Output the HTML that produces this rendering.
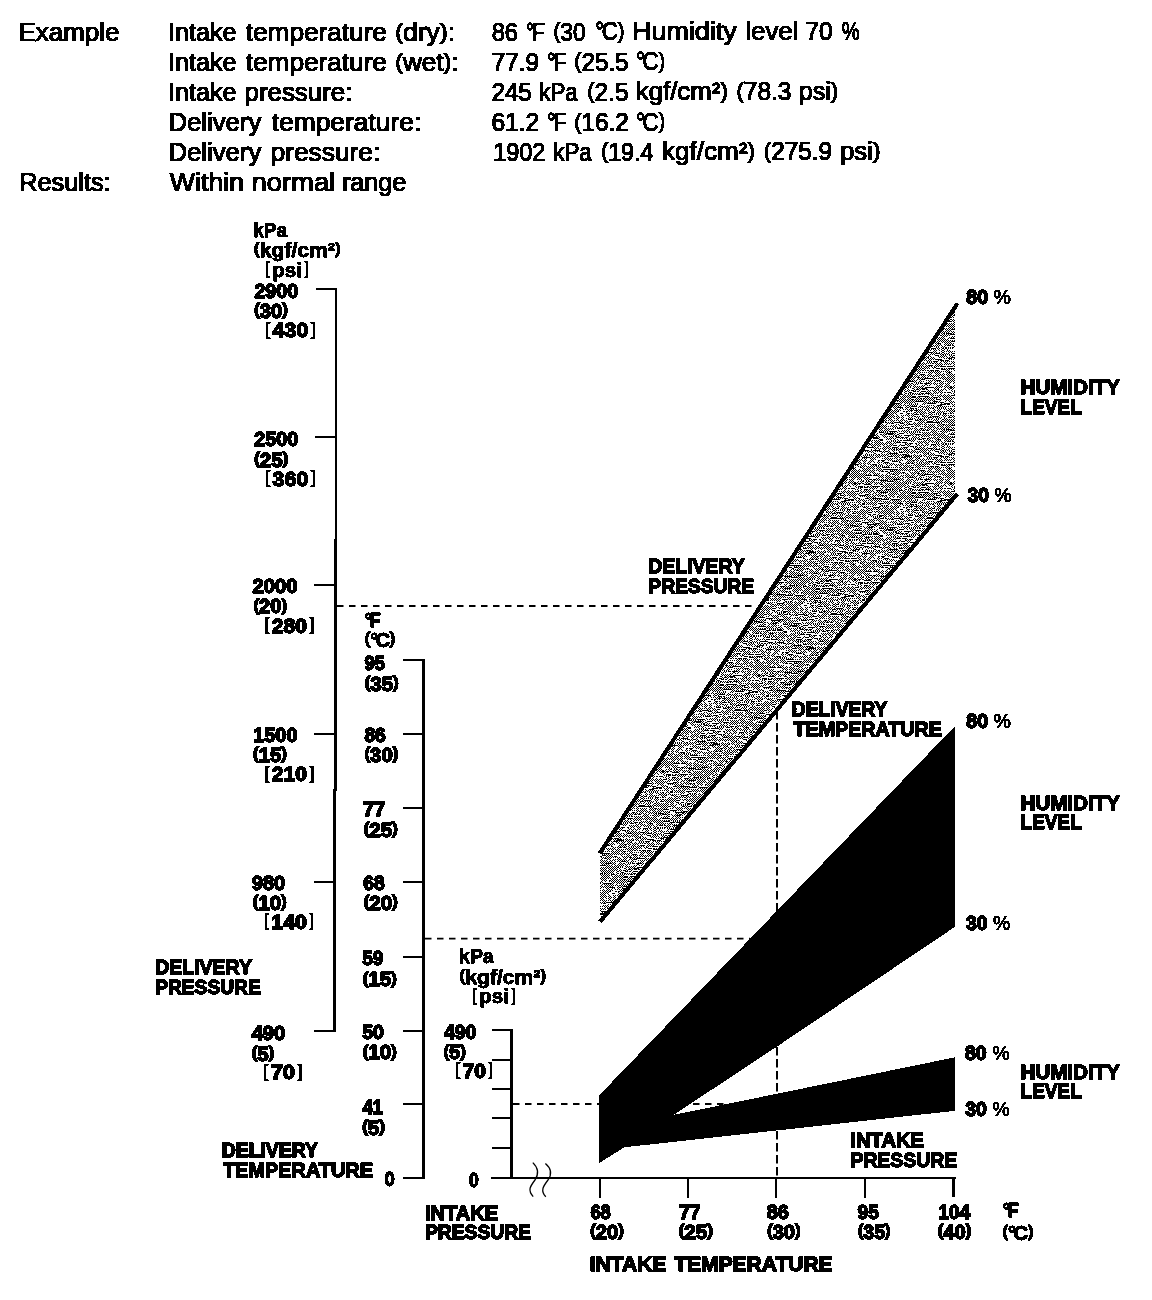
<!DOCTYPE html>
<html lang="en">
<head>
<meta charset="utf-8">
<title>A/C performance test chart</title>
<style>
html,body{margin:0;padding:0;background:#fff;}
body{width:1152px;height:1300px;overflow:hidden;}
svg{display:block;}
text{font-family:"Liberation Sans",sans-serif;fill:#000;stroke:#000;stroke-linejoin:miter;white-space:pre;}
.h{font-size:25.2px;font-weight:400;stroke-width:1.2px;}
.b{font-size:20.8px;font-weight:700;stroke-width:1.3px;}
.n{font-size:19.4px;font-weight:700;stroke-width:1.3px;}
.u{font-size:19.8px;font-weight:700;stroke-width:0.75px;}
.d{font-size:19.8px;font-weight:700;stroke-width:1.0px;}
.pc{font-weight:400;stroke-width:0.7px;}
.i{stroke-width:0.4px;}
.lb{font-weight:400;stroke-width:0.2px;font-size:0.95em;}
.p{font-size:0.83em;}
.h .p{font-size:0.9em;}
.h .dg{letter-spacing:-2.6px;}
.b .dg,.u .dg,.d .dg{letter-spacing:-2.4px;}
</style>
</head>
<body>
<svg width="1152" height="1300" viewBox="0 0 1152 1300" role="img" aria-label="A/C performance chart">
<filter id="bwh" x="0" y="0" width="1152" height="205" filterUnits="userSpaceOnUse" color-interpolation-filters="sRGB"><feComponentTransfer><feFuncR type="discrete" tableValues="0 0 0 0 0 0 0 0 0 0 1 1 1 1 1 1 1 1 1 1"/><feFuncG type="discrete" tableValues="0 0 0 0 0 0 0 0 0 0 1 1 1 1 1 1 1 1 1 1"/><feFuncB type="discrete" tableValues="0 0 0 0 0 0 0 0 0 0 1 1 1 1 1 1 1 1 1 1"/></feComponentTransfer></filter><filter id="bw" x="0" y="205" width="1152" height="1095" filterUnits="userSpaceOnUse" color-interpolation-filters="sRGB"><feComponentTransfer><feFuncR type="discrete" tableValues="0 0 0 0 0 0 0 0 0 0 0 0 1 1 1 1 1 1 1 1"/><feFuncG type="discrete" tableValues="0 0 0 0 0 0 0 0 0 0 0 0 1 1 1 1 1 1 1 1"/><feFuncB type="discrete" tableValues="0 0 0 0 0 0 0 0 0 0 0 0 1 1 1 1 1 1 1 1"/></feComponentTransfer></filter>
<rect x="0" y="0" width="1152" height="1300" fill="#fff"/><g id="header" filter="url(#bwh)"><rect x="0" y="0" width="1152" height="205" fill="#fff"/>
<text class="h" x="18.40" y="41.2" textLength="101.06" lengthAdjust="spacingAndGlyphs">Example</text>
<text class="h" x="168.15" y="41.0" textLength="68.26" lengthAdjust="spacingAndGlyphs">Intake</text>
<text class="h" x="245.75" y="40.9" textLength="141.17" lengthAdjust="spacingAndGlyphs">temperature</text>
<text class="h" x="395.15" y="40.7" textLength="59.94" lengthAdjust="spacingAndGlyphs"><tspan class="p" dy="-2.02">(</tspan><tspan dy="2.02">dry</tspan><tspan class="p" dy="-2.02">)</tspan><tspan dy="2.02">:</tspan></text>
<text class="h" x="491.70" y="40.5" textLength="26.27" lengthAdjust="spacingAndGlyphs">86</text>
<text class="h" x="525.65" y="40.5" textLength="17.16" lengthAdjust="spacingAndGlyphs"><tspan letter-spacing="-2.60">°F</tspan></text>
<text class="h" x="553.45" y="40.5" textLength="32.24" lengthAdjust="spacingAndGlyphs"><tspan class="p" dy="-2.02">(</tspan><tspan dy="2.02">30</tspan></text>
<text class="h" x="595.15" y="40.4" textLength="29.31" lengthAdjust="spacingAndGlyphs"><tspan letter-spacing="-2.60">°C</tspan><tspan class="p" dy="-2.02" dx="2.60">)</tspan></text>
<text class="h" x="631.90" y="40.4" textLength="104.99" lengthAdjust="spacingAndGlyphs">Humidity</text>
<text class="h" x="745.40" y="40.2" textLength="52.91" lengthAdjust="spacingAndGlyphs">level</text>
<text class="h" x="805.55" y="40.1" textLength="27.14" lengthAdjust="spacingAndGlyphs">70</text>
<text class="h" x="841.65" y="40.1" textLength="17.87" lengthAdjust="spacingAndGlyphs">%</text>
<text class="h" x="168.15" y="71.1" textLength="68.26" lengthAdjust="spacingAndGlyphs">Intake</text>
<text class="h" x="245.75" y="71.0" textLength="141.17" lengthAdjust="spacingAndGlyphs">temperature</text>
<text class="h" x="395.15" y="70.8" textLength="63.36" lengthAdjust="spacingAndGlyphs"><tspan class="p" dy="-2.02">(</tspan><tspan dy="2.02">wet</tspan><tspan class="p" dy="-2.02">)</tspan><tspan dy="2.02">:</tspan></text>
<text class="h" x="491.85" y="70.6" textLength="47.23" lengthAdjust="spacingAndGlyphs">77.9</text>
<text class="h" x="547.35" y="70.6" textLength="16.69" lengthAdjust="spacingAndGlyphs"><tspan letter-spacing="-2.60">°F</tspan></text>
<text class="h" x="574.25" y="70.5" textLength="54.29" lengthAdjust="spacingAndGlyphs"><tspan class="p" dy="-2.02">(</tspan><tspan dy="2.02">25.5</tspan></text>
<text class="h" x="635.95" y="70.4" textLength="29.31" lengthAdjust="spacingAndGlyphs"><tspan letter-spacing="-2.60">°C</tspan><tspan class="p" dy="-2.02" dx="2.60">)</tspan></text>
<text class="h" x="168.15" y="101.1" textLength="68.26" lengthAdjust="spacingAndGlyphs">Intake</text>
<text class="h" x="244.50" y="101.0" textLength="107.88" lengthAdjust="spacingAndGlyphs">pressure:</text>
<text class="h" x="491.45" y="100.6" textLength="40.38" lengthAdjust="spacingAndGlyphs">245</text>
<text class="h" x="539.30" y="100.6" textLength="38.46" lengthAdjust="spacingAndGlyphs">kPa</text>
<text class="h" x="587.25" y="100.5" textLength="41.29" lengthAdjust="spacingAndGlyphs"><tspan class="p" dy="-2.02">(</tspan><tspan dy="2.02">2.5</tspan></text>
<text class="h" x="635.75" y="100.4" textLength="92.22" lengthAdjust="spacingAndGlyphs">kgf/cm²<tspan class="p" dy="-2.02">)</tspan></text>
<text class="h" x="736.45" y="100.3" textLength="54.96" lengthAdjust="spacingAndGlyphs"><tspan class="p" dy="-2.02">(</tspan><tspan dy="2.02">78.3</tspan></text>
<text class="h" x="798.70" y="100.2" textLength="39.61" lengthAdjust="spacingAndGlyphs">psi<tspan class="p" dy="-2.02">)</tspan></text>
<text class="h" x="168.40" y="131.2" textLength="92.90" lengthAdjust="spacingAndGlyphs">Delivery</text>
<text class="h" x="271.75" y="131.1" textLength="149.49" lengthAdjust="spacingAndGlyphs">temperature:</text>
<text class="h" x="491.45" y="130.7" textLength="47.84" lengthAdjust="spacingAndGlyphs">61.2</text>
<text class="h" x="547.35" y="130.7" textLength="16.69" lengthAdjust="spacingAndGlyphs"><tspan letter-spacing="-2.60">°F</tspan></text>
<text class="h" x="574.25" y="130.6" textLength="54.55" lengthAdjust="spacingAndGlyphs"><tspan class="p" dy="-2.02">(</tspan><tspan dy="2.02">16.2</tspan></text>
<text class="h" x="635.95" y="130.5" textLength="29.31" lengthAdjust="spacingAndGlyphs"><tspan letter-spacing="-2.60">°C</tspan><tspan class="p" dy="-2.02" dx="2.60">)</tspan></text>
<text class="h" x="168.40" y="161.1" textLength="92.90" lengthAdjust="spacingAndGlyphs">Delivery</text>
<text class="h" x="270.50" y="161.0" textLength="109.78" lengthAdjust="spacingAndGlyphs">pressure:</text>
<text class="h" x="493.35" y="160.6" textLength="52.05" lengthAdjust="spacingAndGlyphs">1902</text>
<text class="h" x="553.20" y="160.6" textLength="38.66" lengthAdjust="spacingAndGlyphs">kPa</text>
<text class="h" x="601.15" y="160.5" textLength="52.23" lengthAdjust="spacingAndGlyphs"><tspan class="p" dy="-2.02">(</tspan><tspan dy="2.02">19.4</tspan></text>
<text class="h" x="661.95" y="160.4" textLength="93.24" lengthAdjust="spacingAndGlyphs">kgf/cm²<tspan class="p" dy="-2.02">)</tspan></text>
<text class="h" x="763.85" y="160.3" textLength="68.15" lengthAdjust="spacingAndGlyphs"><tspan class="p" dy="-2.02">(</tspan><tspan dy="2.02">275.9</tspan></text>
<text class="h" x="839.90" y="160.2" textLength="40.60" lengthAdjust="spacingAndGlyphs">psi<tspan class="p" dy="-2.02">)</tspan></text>
<text class="h" x="19.20" y="191.3" textLength="91.47" lengthAdjust="spacingAndGlyphs">Results:</text>
<text class="h" x="169.85" y="191.1" textLength="74.21" lengthAdjust="spacingAndGlyphs">Within</text>
<text class="h" x="251.40" y="191.0" textLength="83.98" lengthAdjust="spacingAndGlyphs">normal</text>
<text class="h" x="341.90" y="190.9" textLength="64.42" lengthAdjust="spacingAndGlyphs">range</text>
</g>
<g id="labels" filter="url(#bw)"><rect x="0" y="205" width="1152" height="1095" fill="#fff"/>
<text class="u" x="253.30" y="237.0" textLength="33.58" lengthAdjust="spacingAndGlyphs">kPa</text>
<text class="u" x="253.80" y="256.6" textLength="86.97" lengthAdjust="spacingAndGlyphs"><tspan class="p" dy="-2.77">(</tspan><tspan dy="2.77">kgf/cm²</tspan><tspan class="p" dy="-2.77">)</tspan></text>
<text class="u" x="264.75" y="276.6" textLength="44.72" lengthAdjust="spacingAndGlyphs"><tspan class="lb" dy="-2.57" letter-spacing="1.98">[</tspan><tspan dy="2.57">psi</tspan><tspan class="lb" dy="-2.57" dx="1.98">]</tspan></text>
<text class="n" x="254.40" y="297.6" textLength="43.79" lengthAdjust="spacingAndGlyphs">2900</text>
<text class="n" x="254.15" y="318.0" textLength="33.61" lengthAdjust="spacingAndGlyphs"><tspan class="p" dy="-2.72">(</tspan><tspan dy="2.72">30</tspan><tspan class="p" dy="-2.72">)</tspan></text>
<text class="n" x="264.75" y="337.2" textLength="51.36" lengthAdjust="spacingAndGlyphs"><tspan class="lb" dy="-2.52" letter-spacing="1.94">[</tspan><tspan dy="2.52">430</tspan><tspan class="lb" dy="-2.52" dx="1.94">]</tspan></text>
<text class="n" x="254.30" y="446.0" textLength="43.94" lengthAdjust="spacingAndGlyphs">2500</text>
<text class="n" x="254.15" y="466.8" textLength="34.11" lengthAdjust="spacingAndGlyphs"><tspan class="p" dy="-2.72">(</tspan><tspan dy="2.72">25</tspan><tspan class="p" dy="-2.72">)</tspan></text>
<text class="n" x="264.75" y="485.6" textLength="51.36" lengthAdjust="spacingAndGlyphs"><tspan class="lb" dy="-2.52" letter-spacing="1.94">[</tspan><tspan dy="2.52">360</tspan><tspan class="lb" dy="-2.52" dx="1.94">]</tspan></text>
<text class="n" x="252.40" y="593.3" textLength="45.00" lengthAdjust="spacingAndGlyphs">2000</text>
<text class="n" x="253.55" y="613.4" textLength="33.56" lengthAdjust="spacingAndGlyphs"><tspan class="p" dy="-2.72">(</tspan><tspan dy="2.72">20</tspan><tspan class="p" dy="-2.72">)</tspan></text>
<text class="n" x="264.15" y="632.9" textLength="50.71" lengthAdjust="spacingAndGlyphs"><tspan class="lb" dy="-2.52" letter-spacing="1.94">[</tspan><tspan dy="2.52">280</tspan><tspan class="lb" dy="-2.52" dx="1.94">]</tspan></text>
<text class="n" x="253.30" y="741.5" textLength="44.16" lengthAdjust="spacingAndGlyphs">1500</text>
<text class="n" x="253.05" y="761.8" textLength="33.81" lengthAdjust="spacingAndGlyphs"><tspan class="p" dy="-2.72">(</tspan><tspan dy="2.72">15</tspan><tspan class="p" dy="-2.72">)</tspan></text>
<text class="n" x="264.15" y="781.3" textLength="50.71" lengthAdjust="spacingAndGlyphs"><tspan class="lb" dy="-2.52" letter-spacing="1.94">[</tspan><tspan dy="2.52">210</tspan><tspan class="lb" dy="-2.52" dx="1.94">]</tspan></text>
<text class="n" x="252.00" y="889.9" textLength="33.11" lengthAdjust="spacingAndGlyphs">980</text>
<text class="n" x="252.75" y="910.2" textLength="33.96" lengthAdjust="spacingAndGlyphs"><tspan class="p" dy="-2.72">(</tspan><tspan dy="2.72">10</tspan><tspan class="p" dy="-2.72">)</tspan></text>
<text class="n" x="263.45" y="929.0" textLength="51.26" lengthAdjust="spacingAndGlyphs"><tspan class="lb" dy="-2.52" letter-spacing="1.94">[</tspan><tspan dy="2.52">140</tspan><tspan class="lb" dy="-2.52" dx="1.94">]</tspan></text>
<text class="n" x="251.65" y="1040.3" textLength="33.65" lengthAdjust="spacingAndGlyphs">490</text>
<text class="n" x="251.65" y="1060.6" textLength="22.58" lengthAdjust="spacingAndGlyphs"><tspan class="p" dy="-2.72">(</tspan><tspan dy="2.72">5</tspan><tspan class="p" dy="-2.72">)</tspan></text>
<text class="n" x="262.75" y="1079.3" textLength="40.23" lengthAdjust="spacingAndGlyphs"><tspan class="lb" dy="-2.52" letter-spacing="1.94">[</tspan><tspan dy="2.52">70</tspan><tspan class="lb" dy="-2.52" dx="1.94">]</tspan></text>
<text class="d" x="364.75" y="626.8" textLength="13.76" lengthAdjust="spacingAndGlyphs"><tspan letter-spacing="-2.40">°F</tspan></text>
<text class="d" x="364.75" y="646.8" textLength="30.51" lengthAdjust="spacingAndGlyphs"><tspan class="p" dy="-2.77">(</tspan><tspan dy="2.77" letter-spacing="-2.40">°C</tspan><tspan class="p" dy="-2.77" dx="2.40">)</tspan></text>
<text class="n" x="364.40" y="669.9" textLength="20.49" lengthAdjust="spacingAndGlyphs">95</text>
<text class="n" x="364.75" y="690.7" textLength="33.96" lengthAdjust="spacingAndGlyphs"><tspan class="p" dy="-2.72">(</tspan><tspan dy="2.72">35</tspan><tspan class="p" dy="-2.72">)</tspan></text>
<text class="n" x="364.40" y="741.5" textLength="21.38" lengthAdjust="spacingAndGlyphs">86</text>
<text class="n" x="364.45" y="761.8" textLength="33.91" lengthAdjust="spacingAndGlyphs"><tspan class="p" dy="-2.72">(</tspan><tspan dy="2.72">30</tspan><tspan class="p" dy="-2.72">)</tspan></text>
<text class="n" x="362.95" y="816.0" textLength="22.29" lengthAdjust="spacingAndGlyphs">77</text>
<text class="n" x="363.65" y="836.8" textLength="34.11" lengthAdjust="spacingAndGlyphs"><tspan class="p" dy="-2.72">(</tspan><tspan dy="2.72">25</tspan><tspan class="p" dy="-2.72">)</tspan></text>
<text class="n" x="363.20" y="889.9" textLength="21.43" lengthAdjust="spacingAndGlyphs">68</text>
<text class="n" x="363.65" y="910.2" textLength="34.11" lengthAdjust="spacingAndGlyphs"><tspan class="p" dy="-2.72">(</tspan><tspan dy="2.72">20</tspan><tspan class="p" dy="-2.72">)</tspan></text>
<text class="n" x="362.20" y="965.3" textLength="21.28" lengthAdjust="spacingAndGlyphs">59</text>
<text class="n" x="362.65" y="986.4" textLength="34.11" lengthAdjust="spacingAndGlyphs"><tspan class="p" dy="-2.72">(</tspan><tspan dy="2.72">15</tspan><tspan class="p" dy="-2.72">)</tspan></text>
<text class="n" x="362.20" y="1038.5" textLength="21.68" lengthAdjust="spacingAndGlyphs">50</text>
<text class="n" x="362.65" y="1059.3" textLength="34.11" lengthAdjust="spacingAndGlyphs"><tspan class="p" dy="-2.72">(</tspan><tspan dy="2.72">10</tspan><tspan class="p" dy="-2.72">)</tspan></text>
<text class="n" x="362.65" y="1114.0" textLength="19.91" lengthAdjust="spacingAndGlyphs">41</text>
<text class="n" x="362.15" y="1135.1" textLength="22.93" lengthAdjust="spacingAndGlyphs"><tspan class="p" dy="-2.72">(</tspan><tspan dy="2.72">5</tspan><tspan class="p" dy="-2.72">)</tspan></text>
<text class="n" x="384.50" y="1185.9" textLength="10.15" lengthAdjust="spacingAndGlyphs">0</text>
<text class="u" x="459.10" y="963.2" textLength="34.60" lengthAdjust="spacingAndGlyphs">kPa</text>
<text class="u" x="459.60" y="983.6" textLength="86.51" lengthAdjust="spacingAndGlyphs"><tspan class="p" dy="-2.77">(</tspan><tspan dy="2.77">kgf/cm²</tspan><tspan class="p" dy="-2.77">)</tspan></text>
<text class="u" x="471.85" y="1003.2" textLength="44.52" lengthAdjust="spacingAndGlyphs"><tspan class="lb" dy="-2.57" letter-spacing="1.98">[</tspan><tspan dy="2.57">psi</tspan><tspan class="lb" dy="-2.57" dx="1.98">]</tspan></text>
<text class="n" x="443.95" y="1038.5" textLength="32.36" lengthAdjust="spacingAndGlyphs">490</text>
<text class="n" x="443.45" y="1059.3" textLength="22.43" lengthAdjust="spacingAndGlyphs"><tspan class="p" dy="-2.72">(</tspan><tspan dy="2.72">5</tspan><tspan class="p" dy="-2.72">)</tspan></text>
<text class="n" x="454.95" y="1078.0" textLength="38.75" lengthAdjust="spacingAndGlyphs"><tspan class="lb" dy="-2.52" letter-spacing="1.94">[</tspan><tspan dy="2.52">70</tspan><tspan class="lb" dy="-2.52" dx="1.94">]</tspan></text>
<text class="n" x="469.00" y="1187.1" textLength="9.69" lengthAdjust="spacingAndGlyphs">0</text>
<text class="b" x="155.15" y="973.8" textLength="96.84" lengthAdjust="spacingAndGlyphs">DELIVERY</text>
<text class="b" x="155.15" y="994.0" textLength="105.65" lengthAdjust="spacingAndGlyphs">PRESSURE</text>
<text class="b" x="221.75" y="1157.0" textLength="96.14" lengthAdjust="spacingAndGlyphs">DELIVERY</text>
<text class="b" x="223.00" y="1177.1" textLength="149.96" lengthAdjust="spacingAndGlyphs">TEMPERATURE</text>
<text class="b" x="424.95" y="1220.0" textLength="73.30" lengthAdjust="spacingAndGlyphs">INTAKE</text>
<text class="b" x="424.95" y="1239.1" textLength="105.95" lengthAdjust="spacingAndGlyphs">PRESSURE</text>
<text class="b" x="648.35" y="573.1" textLength="96.44" lengthAdjust="spacingAndGlyphs">DELIVERY</text>
<text class="b" x="648.35" y="592.6" textLength="105.65" lengthAdjust="spacingAndGlyphs">PRESSURE</text>
<text class="b" x="791.85" y="716.1" textLength="95.49" lengthAdjust="spacingAndGlyphs">DELIVERY</text>
<text class="b" x="793.60" y="735.7" textLength="148.26" lengthAdjust="spacingAndGlyphs">TEMPERATURE</text>
<text class="b" x="850.45" y="1146.9" textLength="73.50" lengthAdjust="spacingAndGlyphs">INTAKE</text>
<text class="b" x="850.45" y="1166.9" textLength="106.86" lengthAdjust="spacingAndGlyphs">PRESSURE</text>
<text class="n" x="966.30" y="304.0" textLength="44.67" lengthAdjust="spacingAndGlyphs">80 <tspan class="pc">%</tspan></text>
<text class="b" x="1020.55" y="394.4" textLength="99.32" lengthAdjust="spacingAndGlyphs">HUMIDITY</text>
<text class="b" x="1020.55" y="413.5" textLength="61.01" lengthAdjust="spacingAndGlyphs">LEVEL</text>
<text class="n" x="967.45" y="502.0" textLength="43.92" lengthAdjust="spacingAndGlyphs">30 <tspan class="pc">%</tspan></text>
<text class="n" x="966.30" y="727.8" textLength="44.67" lengthAdjust="spacingAndGlyphs">80 <tspan class="pc">%</tspan></text>
<text class="b" x="1020.55" y="810.4" textLength="99.32" lengthAdjust="spacingAndGlyphs">HUMIDITY</text>
<text class="b" x="1020.55" y="829.4" textLength="61.01" lengthAdjust="spacingAndGlyphs">LEVEL</text>
<text class="n" x="965.95" y="930.0" textLength="44.27" lengthAdjust="spacingAndGlyphs">30 <tspan class="pc">%</tspan></text>
<text class="n" x="965.00" y="1059.6" textLength="44.52" lengthAdjust="spacingAndGlyphs">80 <tspan class="pc">%</tspan></text>
<text class="b" x="1020.55" y="1078.9" textLength="99.32" lengthAdjust="spacingAndGlyphs">HUMIDITY</text>
<text class="b" x="1020.55" y="1098.4" textLength="61.01" lengthAdjust="spacingAndGlyphs">LEVEL</text>
<text class="n" x="965.25" y="1116.1" textLength="44.27" lengthAdjust="spacingAndGlyphs">30 <tspan class="pc">%</tspan></text>
<text class="n" x="590.40" y="1218.6" textLength="20.34" lengthAdjust="spacingAndGlyphs">68</text>
<text class="n" x="590.15" y="1239.1" textLength="33.56" lengthAdjust="spacingAndGlyphs"><tspan class="p" dy="-2.72">(</tspan><tspan dy="2.72">20</tspan><tspan class="p" dy="-2.72">)</tspan></text>
<text class="n" x="679.15" y="1218.6" textLength="21.27" lengthAdjust="spacingAndGlyphs">77</text>
<text class="n" x="678.65" y="1239.1" textLength="34.27" lengthAdjust="spacingAndGlyphs"><tspan class="p" dy="-2.72">(</tspan><tspan dy="2.72">25</tspan><tspan class="p" dy="-2.72">)</tspan></text>
<text class="n" x="766.70" y="1218.6" textLength="22.23" lengthAdjust="spacingAndGlyphs">86</text>
<text class="n" x="767.15" y="1239.1" textLength="33.46" lengthAdjust="spacingAndGlyphs"><tspan class="p" dy="-2.72">(</tspan><tspan dy="2.72">30</tspan><tspan class="p" dy="-2.72">)</tspan></text>
<text class="n" x="857.40" y="1218.6" textLength="21.48" lengthAdjust="spacingAndGlyphs">95</text>
<text class="n" x="857.95" y="1239.1" textLength="32.60" lengthAdjust="spacingAndGlyphs"><tspan class="p" dy="-2.72">(</tspan><tspan dy="2.72">35</tspan><tspan class="p" dy="-2.72">)</tspan></text>
<text class="n" x="938.40" y="1218.6" textLength="31.66" lengthAdjust="spacingAndGlyphs">104</text>
<text class="n" x="937.85" y="1239.1" textLength="33.46" lengthAdjust="spacingAndGlyphs"><tspan class="p" dy="-2.72">(</tspan><tspan dy="2.72">40</tspan><tspan class="p" dy="-2.72">)</tspan></text>
<text class="d" x="1002.45" y="1217.3" textLength="14.22" lengthAdjust="spacingAndGlyphs"><tspan letter-spacing="-2.40">°F</tspan></text>
<text class="d" x="1002.45" y="1239.5" textLength="30.98" lengthAdjust="spacingAndGlyphs"><tspan class="p" dy="-2.77">(</tspan><tspan dy="2.77" letter-spacing="-2.40">°C</tspan><tspan class="p" dy="-2.77" dx="2.40">)</tspan></text>
<text class="b" x="589.65" y="1270.9" textLength="76.89" lengthAdjust="spacingAndGlyphs">INTAKE</text>
<text class="b" x="674.20" y="1270.9" textLength="158.45" lengthAdjust="spacingAndGlyphs">TEMPERATURE</text>
</g>
<defs><pattern id="dith" x="0" y="0" width="96" height="96" patternUnits="userSpaceOnUse"><rect width="96" height="96" fill="#fff"/><path d="M2 0h1v1h-1zM4 0h1v1h-1zM8 0h1v1h-1zM10 0h1v1h-1zM12 0h1v1h-1zM14 0h1v1h-1zM16 0h8v1h-8zM26 0h1v1h-1zM28 0h1v1h-1zM30 0h1v1h-1zM32 0h1v1h-1zM36 0h1v1h-1zM38 0h1v1h-1zM42 0h1v1h-1zM44 0h1v1h-1zM46 0h1v1h-1zM49 0h1v1h-1zM51 0h1v1h-1zM53 0h1v1h-1zM61 0h2v1h-2zM66 0h1v1h-1zM70 0h1v1h-1zM72 0h1v1h-1zM76 0h1v1h-1zM78 0h1v1h-1zM82 0h1v1h-1zM84 0h1v1h-1zM93 0h1v1h-1zM95 0h1v1h-1zM2 1h1v1h-1zM4 1h2v1h-2zM7 1h1v1h-1zM9 1h1v1h-1zM17 1h1v1h-1zM19 1h1v1h-1zM21 1h1v1h-1zM23 1h7v1h-7zM31 1h1v1h-1zM33 1h1v1h-1zM35 1h1v1h-1zM39 1h1v1h-1zM41 1h1v1h-1zM43 1h1v1h-1zM45 1h1v1h-1zM47 1h1v1h-1zM50 1h1v1h-1zM58 1h1v1h-1zM60 1h1v1h-1zM63 1h1v1h-1zM65 1h1v1h-1zM73 1h1v1h-1zM75 1h1v1h-1zM77 1h1v1h-1zM81 1h1v1h-1zM83 1h1v1h-1zM85 1h1v1h-1zM90 1h1v1h-1zM92 1h1v1h-1zM94 1h2v1h-2zM1 2h1v1h-1zM3 2h1v1h-1zM6 2h1v1h-1zM8 2h1v1h-1zM10 2h1v1h-1zM12 2h1v1h-1zM14 2h1v1h-1zM16 2h1v1h-1zM18 2h1v1h-1zM20 2h1v1h-1zM30 2h1v1h-1zM32 2h1v1h-1zM34 2h1v1h-1zM36 2h1v1h-1zM38 2h1v1h-1zM40 2h1v1h-1zM42 2h1v1h-1zM44 2h1v1h-1zM46 2h1v1h-1zM49 2h1v1h-1zM51 2h1v1h-1zM53 2h1v1h-1zM55 2h1v1h-1zM57 2h1v1h-1zM59 2h1v1h-1zM72 2h1v1h-1zM74 2h1v1h-1zM76 2h1v1h-1zM78 2h1v1h-1zM80 2h1v1h-1zM82 2h1v1h-1zM84 2h1v1h-1zM86 2h2v1h-2zM89 2h1v1h-1zM93 2h1v1h-1zM2 3h1v1h-1zM4 3h2v1h-2zM7 3h1v1h-1zM11 3h1v1h-1zM13 3h1v1h-1zM15 3h1v1h-1zM17 3h1v1h-1zM21 3h1v1h-1zM23 3h1v1h-1zM25 3h1v1h-1zM27 3h1v1h-1zM29 3h1v1h-1zM31 3h1v1h-1zM33 3h1v1h-1zM35 3h1v1h-1zM37 3h1v1h-1zM39 3h1v1h-1zM41 3h2v1h-2zM44 3h1v1h-1zM46 3h1v1h-1zM50 3h1v1h-1zM52 3h1v1h-1zM54 3h1v1h-1zM56 3h1v1h-1zM58 3h1v1h-1zM61 3h9v1h-9zM71 3h1v1h-1zM73 3h1v1h-1zM75 3h1v1h-1zM77 3h1v1h-1zM81 3h1v1h-1zM83 3h1v1h-1zM85 3h4v1h-4zM90 3h3v1h-3zM94 3h2v1h-2zM0 4h7v1h-7zM10 4h1v1h-1zM12 4h1v1h-1zM16 4h3v1h-3zM22 4h1v1h-1zM24 4h1v1h-1zM26 4h1v1h-1zM28 4h1v1h-1zM30 4h1v1h-1zM32 4h1v1h-1zM34 4h1v1h-1zM36 4h1v1h-1zM38 4h1v1h-1zM40 4h1v1h-1zM43 4h1v1h-1zM48 4h2v1h-2zM53 4h1v1h-1zM55 4h1v1h-1zM57 4h6v1h-6zM70 4h1v1h-1zM72 4h1v1h-1zM74 4h1v1h-1zM80 4h1v1h-1zM84 4h1v1h-1zM86 4h2v1h-2zM89 4h1v1h-1zM91 4h1v1h-1zM7 5h1v1h-1zM19 5h1v1h-1zM21 5h1v1h-1zM23 5h1v1h-1zM25 5h1v1h-1zM27 5h1v1h-1zM29 5h1v1h-1zM33 5h1v1h-1zM35 5h1v1h-1zM37 5h1v1h-1zM39 5h1v1h-1zM41 5h1v1h-1zM44 5h1v1h-1zM50 5h1v1h-1zM52 5h3v1h-3zM56 5h1v1h-1zM58 5h3v1h-3zM62 5h2v1h-2zM71 5h1v1h-1zM73 5h2v1h-2zM77 5h1v1h-1zM79 5h1v1h-1zM81 5h1v1h-1zM85 5h1v1h-1zM88 5h1v1h-1zM0 6h1v1h-1zM3 6h2v1h-2zM6 6h1v1h-1zM8 6h8v1h-8zM17 6h2v1h-2zM20 6h1v1h-1zM22 6h1v1h-1zM24 6h1v1h-1zM26 6h1v1h-1zM28 6h1v1h-1zM30 6h1v1h-1zM32 6h1v1h-1zM34 6h1v1h-1zM36 6h1v1h-1zM38 6h1v1h-1zM40 6h1v1h-1zM43 6h1v1h-1zM45 6h1v1h-1zM47 6h3v1h-3zM51 6h1v1h-1zM55 6h1v1h-1zM64 6h1v1h-1zM66 6h1v1h-1zM68 6h1v1h-1zM70 6h1v1h-1zM72 6h1v1h-1zM74 6h1v1h-1zM76 6h1v1h-1zM78 6h1v1h-1zM82 6h1v1h-1zM87 6h1v1h-1zM90 6h5v1h-5zM0 7h4v1h-4zM5 7h1v1h-1zM7 7h1v1h-1zM9 7h1v1h-1zM11 7h1v1h-1zM13 7h1v1h-1zM19 7h1v1h-1zM21 7h1v1h-1zM23 7h1v1h-1zM25 7h1v1h-1zM27 7h1v1h-1zM29 7h1v1h-1zM31 7h1v1h-1zM33 7h1v1h-1zM35 7h1v1h-1zM37 7h1v1h-1zM41 7h2v1h-2zM44 7h1v1h-1zM49 7h3v1h-3zM53 7h2v1h-2zM57 7h5v1h-5zM63 7h1v1h-1zM65 7h1v1h-1zM69 7h1v1h-1zM71 7h1v1h-1zM75 7h1v1h-1zM77 7h1v1h-1zM88 7h1v1h-1zM90 7h1v1h-1zM92 7h3v1h-3zM6 8h1v1h-1zM8 8h1v1h-1zM10 8h1v1h-1zM12 8h1v1h-1zM16 8h1v1h-1zM18 8h1v1h-1zM22 8h1v1h-1zM26 8h1v1h-1zM28 8h1v1h-1zM30 8h1v1h-1zM32 8h1v1h-1zM34 8h1v1h-1zM36 8h1v1h-1zM40 8h1v1h-1zM45 8h3v1h-3zM56 8h1v1h-1zM62 8h1v1h-1zM64 8h1v1h-1zM66 8h1v1h-1zM70 8h1v1h-1zM72 8h1v1h-1zM74 8h1v1h-1zM76 8h1v1h-1zM78 8h1v1h-1zM80 8h2v1h-2zM83 8h4v1h-4zM90 8h1v1h-1zM92 8h1v1h-1zM0 9h4v1h-4zM5 9h1v1h-1zM9 9h1v1h-1zM17 9h1v1h-1zM21 9h6v1h-6zM28 9h2v1h-2zM31 9h1v1h-1zM33 9h1v1h-1zM35 9h1v1h-1zM37 9h1v1h-1zM41 9h2v1h-2zM44 9h1v1h-1zM46 9h1v1h-1zM48 9h2v1h-2zM51 9h1v1h-1zM53 9h1v1h-1zM55 9h1v1h-1zM57 9h3v1h-3zM61 9h5v1h-5zM67 9h1v1h-1zM69 9h1v1h-1zM71 9h1v1h-1zM73 9h1v1h-1zM77 9h1v1h-1zM87 9h1v1h-1zM89 9h1v1h-1zM93 9h1v1h-1zM0 10h1v1h-1zM2 10h1v1h-1zM4 10h1v1h-1zM6 10h1v1h-1zM8 10h1v1h-1zM12 10h5v1h-5zM18 10h1v1h-1zM20 10h1v1h-1zM22 10h1v1h-1zM24 10h1v1h-1zM26 10h1v1h-1zM28 10h1v1h-1zM30 10h1v1h-1zM32 10h1v1h-1zM35 10h4v1h-4zM40 10h1v1h-1zM44 10h1v1h-1zM46 10h1v1h-1zM48 10h1v1h-1zM50 10h1v1h-1zM52 10h1v1h-1zM54 10h3v1h-3zM58 10h1v1h-1zM60 10h1v1h-1zM64 10h1v1h-1zM66 10h1v1h-1zM68 10h1v1h-1zM76 10h1v1h-1zM80 10h1v1h-1zM84 10h1v1h-1zM90 10h1v1h-1zM92 10h1v1h-1zM1 11h1v1h-1zM3 11h1v1h-1zM5 11h1v1h-1zM7 11h1v1h-1zM9 11h1v1h-1zM13 11h1v1h-1zM15 11h1v1h-1zM17 11h1v1h-1zM19 11h1v1h-1zM21 11h1v1h-1zM23 11h1v1h-1zM25 11h1v1h-1zM27 11h1v1h-1zM29 11h1v1h-1zM31 11h1v1h-1zM33 11h1v1h-1zM35 11h1v1h-1zM39 11h1v1h-1zM41 11h1v1h-1zM43 11h1v1h-1zM45 11h1v1h-1zM47 11h1v1h-1zM67 11h1v1h-1zM69 11h1v1h-1zM71 11h1v1h-1zM73 11h1v1h-1zM75 11h1v1h-1zM77 11h1v1h-1zM79 11h1v1h-1zM81 11h1v1h-1zM83 11h1v1h-1zM85 11h1v1h-1zM87 11h4v1h-4zM93 11h1v1h-1zM95 11h1v1h-1zM0 12h1v1h-1zM2 12h1v1h-1zM4 12h1v1h-1zM6 12h1v1h-1zM10 12h1v1h-1zM12 12h1v1h-1zM14 12h1v1h-1zM16 12h8v1h-8zM26 12h1v1h-1zM28 12h1v1h-1zM30 12h1v1h-1zM32 12h1v1h-1zM36 12h1v1h-1zM38 12h1v1h-1zM40 12h1v1h-1zM42 12h1v1h-1zM44 12h1v1h-1zM46 12h1v1h-1zM48 12h4v1h-4zM54 12h11v1h-11zM68 12h1v1h-1zM74 12h1v1h-1zM76 12h1v1h-1zM78 12h1v1h-1zM80 12h1v1h-1zM82 12h1v1h-1zM84 12h1v1h-1zM86 12h1v1h-1zM92 12h1v1h-1zM94 12h1v1h-1zM5 13h1v1h-1zM9 13h1v1h-1zM11 13h1v1h-1zM15 13h1v1h-1zM17 13h1v1h-1zM19 13h1v1h-1zM21 13h1v1h-1zM25 13h1v1h-1zM27 13h1v1h-1zM29 13h1v1h-1zM31 13h1v1h-1zM33 13h1v1h-1zM37 13h1v1h-1zM39 13h1v1h-1zM41 13h1v1h-1zM43 13h1v1h-1zM45 13h1v1h-1zM47 13h5v1h-5zM53 13h1v1h-1zM55 13h1v1h-1zM61 13h1v1h-1zM63 13h1v1h-1zM65 13h1v1h-1zM67 13h1v1h-1zM69 13h5v1h-5zM75 13h1v1h-1zM79 13h1v1h-1zM81 13h1v1h-1zM83 13h1v1h-1zM85 13h1v1h-1zM87 13h1v1h-1zM89 13h1v1h-1zM91 13h1v1h-1zM93 13h1v1h-1zM1 14h4v1h-4zM6 14h1v1h-1zM8 14h1v1h-1zM12 14h1v1h-1zM14 14h1v1h-1zM16 14h1v1h-1zM24 14h1v1h-1zM26 14h1v1h-1zM28 14h1v1h-1zM30 14h1v1h-1zM32 14h1v1h-1zM34 14h1v1h-1zM36 14h1v1h-1zM38 14h1v1h-1zM40 14h1v1h-1zM44 14h1v1h-1zM46 14h1v1h-1zM52 14h1v1h-1zM54 14h1v1h-1zM56 14h2v1h-2zM59 14h2v1h-2zM62 14h1v1h-1zM64 14h1v1h-1zM66 14h1v1h-1zM68 14h1v1h-1zM70 14h1v1h-1zM72 14h1v1h-1zM76 14h1v1h-1zM80 14h1v1h-1zM82 14h1v1h-1zM84 14h1v1h-1zM86 14h1v1h-1zM88 14h1v1h-1zM90 14h1v1h-1zM0 15h2v1h-2zM3 15h1v1h-1zM5 15h1v1h-1zM9 15h1v1h-1zM11 15h1v1h-1zM13 15h1v1h-1zM15 15h1v1h-1zM17 15h3v1h-3zM21 15h2v1h-2zM25 15h1v1h-1zM27 15h1v1h-1zM29 15h1v1h-1zM35 15h1v1h-1zM37 15h1v1h-1zM39 15h1v1h-1zM41 15h1v1h-1zM43 15h1v1h-1zM45 15h1v1h-1zM47 15h3v1h-3zM51 15h1v1h-1zM53 15h1v1h-1zM55 15h1v1h-1zM57 15h1v1h-1zM59 15h1v1h-1zM61 15h1v1h-1zM63 15h1v1h-1zM65 15h1v1h-1zM67 15h1v1h-1zM69 15h1v1h-1zM72 15h4v1h-4zM77 15h1v1h-1zM79 15h1v1h-1zM81 15h1v1h-1zM83 15h1v1h-1zM85 15h1v1h-1zM87 15h1v1h-1zM91 15h5v1h-5zM0 16h1v1h-1zM2 16h1v1h-1zM4 16h1v1h-1zM6 16h1v1h-1zM8 16h1v1h-1zM10 16h1v1h-1zM14 16h1v1h-1zM16 16h1v1h-1zM18 16h1v1h-1zM20 16h1v1h-1zM22 16h1v1h-1zM26 16h1v1h-1zM28 16h1v1h-1zM30 16h1v1h-1zM33 16h2v1h-2zM36 16h1v1h-1zM38 16h1v1h-1zM40 16h1v1h-1zM42 16h1v1h-1zM44 16h1v1h-1zM46 16h1v1h-1zM48 16h1v1h-1zM50 16h1v1h-1zM52 16h1v1h-1zM54 16h1v1h-1zM56 16h1v1h-1zM58 16h1v1h-1zM60 16h1v1h-1zM62 16h1v1h-1zM64 16h1v1h-1zM66 16h1v1h-1zM68 16h1v1h-1zM70 16h1v1h-1zM76 16h1v1h-1zM82 16h1v1h-1zM84 16h1v1h-1zM86 16h1v1h-1zM92 16h1v1h-1zM94 16h1v1h-1zM3 17h1v1h-1zM5 17h1v1h-1zM7 17h1v1h-1zM9 17h1v1h-1zM11 17h1v1h-1zM21 17h1v1h-1zM23 17h1v1h-1zM25 17h1v1h-1zM29 17h1v1h-1zM33 17h1v1h-1zM35 17h1v1h-1zM37 17h1v1h-1zM39 17h1v1h-1zM41 17h1v1h-1zM43 17h1v1h-1zM45 17h1v1h-1zM47 17h1v1h-1zM49 17h1v1h-1zM51 17h9v1h-9zM61 17h1v1h-1zM65 17h1v1h-1zM69 17h5v1h-5zM75 17h1v1h-1zM81 17h1v1h-1zM85 17h1v1h-1zM87 17h1v1h-1zM89 17h1v1h-1zM1 18h4v1h-4zM6 18h1v1h-1zM8 18h10v1h-10zM20 18h1v1h-1zM22 18h1v1h-1zM24 18h1v1h-1zM26 18h1v1h-1zM36 18h1v1h-1zM38 18h1v1h-1zM40 18h1v1h-1zM42 18h1v1h-1zM44 18h1v1h-1zM46 18h1v1h-1zM48 18h1v1h-1zM50 18h1v1h-1zM60 18h1v1h-1zM62 18h1v1h-1zM64 18h1v1h-1zM66 18h1v1h-1zM68 18h1v1h-1zM70 18h1v1h-1zM72 18h1v1h-1zM74 18h1v1h-1zM76 18h4v1h-4zM86 18h1v1h-1zM88 18h1v1h-1zM90 18h2v1h-2zM5 19h1v1h-1zM7 19h1v1h-1zM9 19h1v1h-1zM11 19h1v1h-1zM13 19h1v1h-1zM15 19h1v1h-1zM17 19h8v1h-8zM27 19h9v1h-9zM37 19h1v1h-1zM41 19h1v1h-1zM43 19h1v1h-1zM45 19h1v1h-1zM47 19h1v1h-1zM51 19h1v1h-1zM53 19h1v1h-1zM59 19h1v1h-1zM61 19h1v1h-1zM63 19h9v1h-9zM77 19h1v1h-1zM80 19h6v1h-6zM87 19h1v1h-1zM91 19h1v1h-1zM93 19h1v1h-1zM95 19h1v1h-1zM0 20h1v1h-1zM2 20h1v1h-1zM4 20h1v1h-1zM6 20h1v1h-1zM8 20h1v1h-1zM10 20h1v1h-1zM12 20h1v1h-1zM14 20h1v1h-1zM16 20h1v1h-1zM26 20h1v1h-1zM28 20h1v1h-1zM30 20h1v1h-1zM32 20h1v1h-1zM34 20h1v1h-1zM36 20h1v1h-1zM40 20h1v1h-1zM45 20h1v1h-1zM47 20h1v1h-1zM49 20h1v1h-1zM51 20h1v1h-1zM53 20h1v1h-1zM58 20h1v1h-1zM60 20h1v1h-1zM76 20h6v1h-6zM83 20h3v1h-3zM88 20h1v1h-1zM90 20h1v1h-1zM92 20h1v1h-1zM94 20h1v1h-1zM1 21h1v1h-1zM7 21h1v1h-1zM11 21h1v1h-1zM13 21h1v1h-1zM15 21h1v1h-1zM17 21h1v1h-1zM19 21h1v1h-1zM21 21h1v1h-1zM23 21h1v1h-1zM25 21h1v1h-1zM29 21h1v1h-1zM31 21h1v1h-1zM33 21h1v1h-1zM35 21h1v1h-1zM37 21h1v1h-1zM39 21h1v1h-1zM41 21h1v1h-1zM43 21h2v1h-2zM46 21h1v1h-1zM48 21h1v1h-1zM50 21h1v1h-1zM52 21h1v1h-1zM56 21h1v1h-1zM63 21h1v1h-1zM65 21h1v1h-1zM67 21h1v1h-1zM69 21h1v1h-1zM73 21h5v1h-5zM89 21h1v1h-1zM91 21h1v1h-1zM95 21h1v1h-1zM0 22h1v1h-1zM2 22h1v1h-1zM4 22h1v1h-1zM6 22h1v1h-1zM8 22h1v1h-1zM10 22h1v1h-1zM12 22h1v1h-1zM20 22h1v1h-1zM22 22h1v1h-1zM24 22h1v1h-1zM26 22h1v1h-1zM28 22h1v1h-1zM30 22h1v1h-1zM32 22h1v1h-1zM34 22h1v1h-1zM36 22h1v1h-1zM42 22h1v1h-1zM45 22h1v1h-1zM47 22h6v1h-6zM55 22h1v1h-1zM57 22h2v1h-2zM60 22h1v1h-1zM62 22h1v1h-1zM64 22h1v1h-1zM70 22h1v1h-1zM72 22h1v1h-1zM74 22h1v1h-1zM76 22h1v1h-1zM78 22h1v1h-1zM80 22h1v1h-1zM82 22h1v1h-1zM84 22h1v1h-1zM86 22h1v1h-1zM88 22h1v1h-1zM90 22h1v1h-1zM92 22h1v1h-1zM0 23h1v1h-1zM3 23h1v1h-1zM5 23h1v1h-1zM7 23h1v1h-1zM9 23h1v1h-1zM11 23h1v1h-1zM14 23h6v1h-6zM21 23h1v1h-1zM23 23h1v1h-1zM25 23h1v1h-1zM27 23h1v1h-1zM29 23h1v1h-1zM31 23h1v1h-1zM33 23h6v1h-6zM41 23h1v1h-1zM43 23h2v1h-2zM46 23h1v1h-1zM54 23h1v1h-1zM56 23h1v1h-1zM59 23h1v1h-1zM61 23h1v1h-1zM63 23h1v1h-1zM65 23h1v1h-1zM67 23h1v1h-1zM69 23h1v1h-1zM71 23h1v1h-1zM73 23h1v1h-1zM75 23h1v1h-1zM77 23h1v1h-1zM79 23h1v1h-1zM81 23h1v1h-1zM91 23h1v1h-1zM94 23h2v1h-2zM0 24h1v1h-1zM2 24h1v1h-1zM4 24h1v1h-1zM6 24h1v1h-1zM8 24h1v1h-1zM10 24h1v1h-1zM12 24h1v1h-1zM16 24h1v1h-1zM24 24h1v1h-1zM30 24h1v1h-1zM32 24h1v1h-1zM36 24h1v1h-1zM38 24h1v1h-1zM42 24h1v1h-1zM46 24h4v1h-4zM51 24h2v1h-2zM58 24h1v1h-1zM62 24h1v1h-1zM64 24h1v1h-1zM66 24h1v1h-1zM68 24h2v1h-2zM73 24h1v1h-1zM75 24h1v1h-1zM77 24h1v1h-1zM79 24h1v1h-1zM81 24h1v1h-1zM84 24h1v1h-1zM86 24h2v1h-2zM90 24h1v1h-1zM92 24h1v1h-1zM94 24h2v1h-2zM9 25h1v1h-1zM11 25h1v1h-1zM17 25h2v1h-2zM20 25h1v1h-1zM22 25h2v1h-2zM27 25h1v1h-1zM31 25h1v1h-1zM33 25h1v1h-1zM35 25h1v1h-1zM39 25h1v1h-1zM41 25h1v1h-1zM43 25h1v1h-1zM45 25h1v1h-1zM47 25h1v1h-1zM49 25h1v1h-1zM52 25h1v1h-1zM54 25h1v1h-1zM56 25h1v1h-1zM58 25h1v1h-1zM60 25h1v1h-1zM62 25h1v1h-1zM64 25h1v1h-1zM70 25h1v1h-1zM74 25h1v1h-1zM76 25h1v1h-1zM80 25h1v1h-1zM82 25h1v1h-1zM85 25h1v1h-1zM87 25h1v1h-1zM89 25h1v1h-1zM93 25h1v1h-1zM0 26h1v1h-1zM2 26h1v1h-1zM4 26h1v1h-1zM6 26h1v1h-1zM8 26h1v1h-1zM15 26h2v1h-2zM18 26h1v1h-1zM20 26h1v1h-1zM22 26h1v1h-1zM24 26h1v1h-1zM26 26h1v1h-1zM28 26h1v1h-1zM30 26h1v1h-1zM32 26h1v1h-1zM34 26h1v1h-1zM36 26h1v1h-1zM44 26h1v1h-1zM46 26h3v1h-3zM50 26h4v1h-4zM55 26h1v1h-1zM57 26h1v1h-1zM61 26h1v1h-1zM63 26h1v1h-1zM65 26h1v1h-1zM69 26h1v1h-1zM71 26h1v1h-1zM73 26h1v1h-1zM75 26h1v1h-1zM83 26h2v1h-2zM86 26h1v1h-1zM88 26h1v1h-1zM90 26h1v1h-1zM92 26h1v1h-1zM94 26h1v1h-1zM0 27h2v1h-2zM3 27h1v1h-1zM9 27h7v1h-7zM19 27h1v1h-1zM21 27h1v1h-1zM23 27h1v1h-1zM27 27h1v1h-1zM29 27h1v1h-1zM31 27h1v1h-1zM33 27h2v1h-2zM39 27h2v1h-2zM42 27h2v1h-2zM45 27h1v1h-1zM47 27h1v1h-1zM52 27h1v1h-1zM54 27h1v1h-1zM56 27h1v1h-1zM58 27h1v1h-1zM60 27h1v1h-1zM64 27h1v1h-1zM67 27h1v1h-1zM70 27h1v1h-1zM74 27h1v1h-1zM76 27h1v1h-1zM78 27h1v1h-1zM80 27h1v1h-1zM82 27h1v1h-1zM85 27h1v1h-1zM87 27h1v1h-1zM89 27h2v1h-2zM95 27h1v1h-1zM2 28h1v1h-1zM4 28h2v1h-2zM7 28h1v1h-1zM9 28h1v1h-1zM11 28h1v1h-1zM14 28h1v1h-1zM16 28h1v1h-1zM18 28h1v1h-1zM20 28h1v1h-1zM22 28h1v1h-1zM24 28h1v1h-1zM26 28h1v1h-1zM28 28h1v1h-1zM30 28h1v1h-1zM32 28h1v1h-1zM42 28h1v1h-1zM50 28h2v1h-2zM53 28h1v1h-1zM55 28h1v1h-1zM57 28h1v1h-1zM59 28h1v1h-1zM61 28h1v1h-1zM65 28h2v1h-2zM68 28h3v1h-3zM73 28h1v1h-1zM75 28h1v1h-1zM77 28h1v1h-1zM79 28h1v1h-1zM86 28h1v1h-1zM88 28h1v1h-1zM3 29h1v1h-1zM6 29h1v1h-1zM8 29h1v1h-1zM10 29h1v1h-1zM12 29h2v1h-2zM15 29h1v1h-1zM17 29h1v1h-1zM21 29h1v1h-1zM23 29h1v1h-1zM25 29h1v1h-1zM27 29h1v1h-1zM29 29h1v1h-1zM31 29h1v1h-1zM36 29h3v1h-3zM43 29h3v1h-3zM47 29h1v1h-1zM49 29h1v1h-1zM52 29h1v1h-1zM56 29h1v1h-1zM58 29h1v1h-1zM60 29h1v1h-1zM62 29h1v1h-1zM64 29h1v1h-1zM67 29h1v1h-1zM72 29h1v1h-1zM74 29h1v1h-1zM76 29h1v1h-1zM79 29h4v1h-4zM84 29h1v1h-1zM86 29h2v1h-2zM89 29h1v1h-1zM93 29h1v1h-1zM95 29h1v1h-1zM0 30h1v1h-1zM2 30h1v1h-1zM4 30h2v1h-2zM7 30h1v1h-1zM14 30h1v1h-1zM18 30h1v1h-1zM20 30h1v1h-1zM22 30h1v1h-1zM24 30h1v1h-1zM26 30h1v1h-1zM28 30h1v1h-1zM32 30h1v1h-1zM42 30h1v1h-1zM44 30h1v1h-1zM48 30h1v1h-1zM50 30h5v1h-5zM56 30h2v1h-2zM59 30h1v1h-1zM65 30h2v1h-2zM68 30h1v1h-1zM70 30h1v1h-1zM72 30h1v1h-1zM74 30h1v1h-1zM76 30h1v1h-1zM79 30h1v1h-1zM81 30h1v1h-1zM92 30h1v1h-1zM94 30h1v1h-1zM1 31h1v1h-1zM3 31h1v1h-1zM8 31h1v1h-1zM10 31h1v1h-1zM12 31h2v1h-2zM15 31h1v1h-1zM17 31h1v1h-1zM19 31h1v1h-1zM21 31h1v1h-1zM23 31h1v1h-1zM25 31h1v1h-1zM27 31h1v1h-1zM29 31h1v1h-1zM33 31h1v1h-1zM37 31h1v1h-1zM39 31h1v1h-1zM41 31h1v1h-1zM43 31h1v1h-1zM45 31h1v1h-1zM47 31h1v1h-1zM49 31h1v1h-1zM58 31h1v1h-1zM60 31h1v1h-1zM62 31h1v1h-1zM64 31h1v1h-1zM67 31h1v1h-1zM75 31h1v1h-1zM78 31h1v1h-1zM80 31h1v1h-1zM82 31h1v1h-1zM84 31h1v1h-1zM86 31h2v1h-2zM89 31h1v1h-1zM91 31h1v1h-1zM93 31h1v1h-1zM95 31h1v1h-1zM0 32h1v1h-1zM2 32h1v1h-1zM4 32h4v1h-4zM11 32h1v1h-1zM14 32h1v1h-1zM16 32h1v1h-1zM18 32h1v1h-1zM20 32h1v1h-1zM22 32h1v1h-1zM24 32h1v1h-1zM26 32h1v1h-1zM28 32h1v1h-1zM30 32h1v1h-1zM32 32h1v1h-1zM34 32h1v1h-1zM38 32h1v1h-1zM44 32h1v1h-1zM48 32h1v1h-1zM50 32h2v1h-2zM53 32h1v1h-1zM55 32h1v1h-1zM58 32h2v1h-2zM61 32h1v1h-1zM63 32h1v1h-1zM66 32h1v1h-1zM68 32h7v1h-7zM79 32h1v1h-1zM81 32h1v1h-1zM85 32h1v1h-1zM88 32h1v1h-1zM90 32h1v1h-1zM92 32h1v1h-1zM94 32h1v1h-1zM1 33h1v1h-1zM3 33h1v1h-1zM15 33h1v1h-1zM17 33h1v1h-1zM19 33h1v1h-1zM21 33h1v1h-1zM23 33h1v1h-1zM25 33h1v1h-1zM27 33h1v1h-1zM29 33h1v1h-1zM33 33h1v1h-1zM35 33h1v1h-1zM37 33h1v1h-1zM39 33h1v1h-1zM45 33h1v1h-1zM47 33h1v1h-1zM52 33h1v1h-1zM54 33h1v1h-1zM60 33h1v1h-1zM62 33h1v1h-1zM64 33h4v1h-4zM69 33h1v1h-1zM71 33h1v1h-1zM73 33h1v1h-1zM75 33h1v1h-1zM77 33h1v1h-1zM80 33h1v1h-1zM84 33h4v1h-4zM89 33h1v1h-1zM91 33h1v1h-1zM93 33h1v1h-1zM95 33h1v1h-1zM0 34h1v1h-1zM4 34h3v1h-3zM9 34h3v1h-3zM14 34h1v1h-1zM20 34h1v1h-1zM22 34h1v1h-1zM24 34h1v1h-1zM26 34h1v1h-1zM30 34h1v1h-1zM32 34h1v1h-1zM34 34h1v1h-1zM38 34h1v1h-1zM42 34h1v1h-1zM44 34h1v1h-1zM46 34h1v1h-1zM48 34h1v1h-1zM50 34h1v1h-1zM54 34h1v1h-1zM56 34h1v1h-1zM58 34h1v1h-1zM60 34h1v1h-1zM64 34h1v1h-1zM68 34h1v1h-1zM72 34h1v1h-1zM74 34h1v1h-1zM76 34h1v1h-1zM80 34h1v1h-1zM82 34h1v1h-1zM90 34h1v1h-1zM92 34h1v1h-1zM94 34h1v1h-1zM1 35h1v1h-1zM6 35h1v1h-1zM8 35h1v1h-1zM13 35h1v1h-1zM15 35h5v1h-5zM21 35h1v1h-1zM25 35h1v1h-1zM27 35h1v1h-1zM33 35h1v1h-1zM37 35h1v1h-1zM39 35h1v1h-1zM44 35h5v1h-5zM51 35h1v1h-1zM53 35h1v1h-1zM55 35h3v1h-3zM59 35h1v1h-1zM61 35h1v1h-1zM63 35h1v1h-1zM65 35h1v1h-1zM67 35h1v1h-1zM70 35h1v1h-1zM72 35h1v1h-1zM74 35h1v1h-1zM78 35h2v1h-2zM81 35h1v1h-1zM83 35h1v1h-1zM85 35h1v1h-1zM87 35h1v1h-1zM89 35h1v1h-1zM91 35h1v1h-1zM95 35h1v1h-1zM0 36h1v1h-1zM4 36h1v1h-1zM7 36h1v1h-1zM9 36h1v1h-1zM11 36h1v1h-1zM13 36h1v1h-1zM15 36h3v1h-3zM20 36h1v1h-1zM22 36h1v1h-1zM24 36h1v1h-1zM26 36h1v1h-1zM28 36h1v1h-1zM30 36h1v1h-1zM32 36h1v1h-1zM34 36h1v1h-1zM36 36h1v1h-1zM38 36h1v1h-1zM40 36h1v1h-1zM42 36h1v1h-1zM51 36h4v1h-4zM56 36h1v1h-1zM58 36h1v1h-1zM60 36h1v1h-1zM62 36h1v1h-1zM69 36h1v1h-1zM71 36h1v1h-1zM73 36h1v1h-1zM77 36h1v1h-1zM80 36h1v1h-1zM82 36h1v1h-1zM84 36h1v1h-1zM86 36h1v1h-1zM88 36h1v1h-1zM90 36h1v1h-1zM92 36h1v1h-1zM94 36h1v1h-1zM1 37h1v1h-1zM3 37h1v1h-1zM9 37h1v1h-1zM11 37h1v1h-1zM13 37h1v1h-1zM15 37h1v1h-1zM19 37h1v1h-1zM21 37h1v1h-1zM27 37h1v1h-1zM29 37h1v1h-1zM35 37h1v1h-1zM37 37h1v1h-1zM41 37h1v1h-1zM43 37h1v1h-1zM45 37h3v1h-3zM55 37h1v1h-1zM57 37h1v1h-1zM59 37h1v1h-1zM63 37h6v1h-6zM72 37h1v1h-1zM74 37h1v1h-1zM76 37h1v1h-1zM78 37h2v1h-2zM81 37h1v1h-1zM83 37h1v1h-1zM85 37h1v1h-1zM87 37h1v1h-1zM89 37h1v1h-1zM91 37h1v1h-1zM95 37h1v1h-1zM0 38h1v1h-1zM2 38h1v1h-1zM10 38h3v1h-3zM14 38h1v1h-1zM16 38h4v1h-4zM21 38h2v1h-2zM24 38h1v1h-1zM26 38h1v1h-1zM28 38h1v1h-1zM30 38h7v1h-7zM38 38h1v1h-1zM40 38h1v1h-1zM42 38h1v1h-1zM44 38h1v1h-1zM50 38h1v1h-1zM54 38h1v1h-1zM56 38h1v1h-1zM58 38h1v1h-1zM60 38h1v1h-1zM62 38h14v1h-14zM77 38h1v1h-1zM80 38h1v1h-1zM82 38h1v1h-1zM84 38h1v1h-1zM86 38h1v1h-1zM88 38h1v1h-1zM90 38h1v1h-1zM92 38h3v1h-3zM1 39h1v1h-1zM3 39h1v1h-1zM5 39h1v1h-1zM7 39h1v1h-1zM9 39h1v1h-1zM13 39h1v1h-1zM15 39h1v1h-1zM23 39h1v1h-1zM25 39h1v1h-1zM27 39h3v1h-3zM36 39h4v1h-4zM43 39h1v1h-1zM45 39h1v1h-1zM49 39h1v1h-1zM51 39h1v1h-1zM53 39h1v1h-1zM55 39h1v1h-1zM57 39h1v1h-1zM61 39h1v1h-1zM73 39h1v1h-1zM75 39h1v1h-1zM77 39h1v1h-1zM85 39h1v1h-1zM87 39h1v1h-1zM89 39h1v1h-1zM91 39h1v1h-1zM0 40h1v1h-1zM4 40h1v1h-1zM6 40h1v1h-1zM8 40h1v1h-1zM10 40h1v1h-1zM12 40h1v1h-1zM14 40h1v1h-1zM16 40h1v1h-1zM18 40h1v1h-1zM22 40h1v1h-1zM32 40h1v1h-1zM34 40h1v1h-1zM40 40h1v1h-1zM42 40h1v1h-1zM44 40h5v1h-5zM50 40h1v1h-1zM52 40h1v1h-1zM54 40h1v1h-1zM56 40h1v1h-1zM58 40h1v1h-1zM60 40h1v1h-1zM62 40h1v1h-1zM64 40h1v1h-1zM66 40h1v1h-1zM68 40h1v1h-1zM70 40h1v1h-1zM74 40h1v1h-1zM76 40h1v1h-1zM78 40h3v1h-3zM82 40h1v1h-1zM84 40h1v1h-1zM86 40h1v1h-1zM88 40h1v1h-1zM90 40h1v1h-1zM94 40h1v1h-1zM5 41h1v1h-1zM7 41h1v1h-1zM9 41h1v1h-1zM15 41h1v1h-1zM17 41h1v1h-1zM19 41h1v1h-1zM21 41h1v1h-1zM27 41h1v1h-1zM29 41h1v1h-1zM31 41h1v1h-1zM35 41h1v1h-1zM37 41h1v1h-1zM39 41h1v1h-1zM41 41h1v1h-1zM43 41h1v1h-1zM51 41h1v1h-1zM53 41h1v1h-1zM55 41h1v1h-1zM61 41h1v1h-1zM65 41h1v1h-1zM67 41h1v1h-1zM69 41h1v1h-1zM73 41h1v1h-1zM75 41h1v1h-1zM77 41h1v1h-1zM79 41h1v1h-1zM81 41h1v1h-1zM83 41h1v1h-1zM85 41h1v1h-1zM87 41h6v1h-6zM0 42h5v1h-5zM6 42h1v1h-1zM8 42h1v1h-1zM10 42h1v1h-1zM16 42h1v1h-1zM18 42h1v1h-1zM20 42h1v1h-1zM22 42h1v1h-1zM24 42h1v1h-1zM26 42h1v1h-1zM28 42h1v1h-1zM30 42h1v1h-1zM32 42h1v1h-1zM36 42h1v1h-1zM38 42h1v1h-1zM47 42h3v1h-3zM52 42h1v1h-1zM54 42h1v1h-1zM56 42h1v1h-1zM58 42h1v1h-1zM60 42h1v1h-1zM62 42h1v1h-1zM64 42h1v1h-1zM66 42h1v1h-1zM68 42h1v1h-1zM70 42h1v1h-1zM74 42h1v1h-1zM76 42h1v1h-1zM78 42h1v1h-1zM82 42h1v1h-1zM84 42h1v1h-1zM86 42h1v1h-1zM94 42h2v1h-2zM1 43h1v1h-1zM3 43h1v1h-1zM9 43h1v1h-1zM11 43h5v1h-5zM17 43h1v1h-1zM19 43h1v1h-1zM21 43h1v1h-1zM29 43h1v1h-1zM31 43h1v1h-1zM33 43h1v1h-1zM35 43h1v1h-1zM37 43h1v1h-1zM39 43h1v1h-1zM41 43h5v1h-5zM51 43h1v1h-1zM61 43h1v1h-1zM63 43h1v1h-1zM65 43h1v1h-1zM67 43h1v1h-1zM69 43h1v1h-1zM71 43h1v1h-1zM73 43h1v1h-1zM77 43h1v1h-1zM79 43h1v1h-1zM81 43h1v1h-1zM83 43h1v1h-1zM85 43h1v1h-1zM87 43h1v1h-1zM89 43h1v1h-1zM91 43h1v1h-1zM93 43h1v1h-1zM3 44h10v1h-10zM14 44h1v1h-1zM16 44h1v1h-1zM18 44h1v1h-1zM20 44h1v1h-1zM22 44h1v1h-1zM24 44h1v1h-1zM26 44h1v1h-1zM28 44h1v1h-1zM31 44h1v1h-1zM33 44h6v1h-6zM40 44h1v1h-1zM44 44h1v1h-1zM46 44h1v1h-1zM48 44h1v1h-1zM50 44h1v1h-1zM52 44h1v1h-1zM56 44h3v1h-3zM60 44h1v1h-1zM64 44h1v1h-1zM66 44h1v1h-1zM70 44h1v1h-1zM72 44h1v1h-1zM74 44h1v1h-1zM76 44h1v1h-1zM78 44h1v1h-1zM80 44h1v1h-1zM82 44h1v1h-1zM84 44h1v1h-1zM88 44h1v1h-1zM90 44h1v1h-1zM92 44h2v1h-2zM4 45h1v1h-1zM6 45h1v1h-1zM10 45h2v1h-2zM13 45h1v1h-1zM15 45h1v1h-1zM17 45h1v1h-1zM21 45h1v1h-1zM23 45h1v1h-1zM25 45h1v1h-1zM27 45h1v1h-1zM29 45h1v1h-1zM43 45h1v1h-1zM45 45h1v1h-1zM47 45h1v1h-1zM51 45h1v1h-1zM53 45h1v1h-1zM55 45h1v1h-1zM57 45h1v1h-1zM59 45h1v1h-1zM61 45h1v1h-1zM63 45h1v1h-1zM65 45h1v1h-1zM67 45h1v1h-1zM69 45h1v1h-1zM73 45h1v1h-1zM75 45h1v1h-1zM77 45h1v1h-1zM79 45h2v1h-2zM82 45h6v1h-6zM89 45h1v1h-1zM91 45h1v1h-1zM3 46h1v1h-1zM5 46h1v1h-1zM7 46h3v1h-3zM12 46h1v1h-1zM16 46h1v1h-1zM18 46h1v1h-1zM20 46h1v1h-1zM22 46h1v1h-1zM24 46h1v1h-1zM34 46h1v1h-1zM38 46h1v1h-1zM40 46h1v1h-1zM42 46h1v1h-1zM44 46h1v1h-1zM50 46h1v1h-1zM52 46h1v1h-1zM54 46h1v1h-1zM56 46h1v1h-1zM58 46h3v1h-3zM62 46h3v1h-3zM68 46h1v1h-1zM70 46h1v1h-1zM72 46h1v1h-1zM78 46h1v1h-1zM80 46h1v1h-1zM82 46h1v1h-1zM84 46h1v1h-1zM86 46h5v1h-5zM92 46h2v1h-2zM95 46h1v1h-1zM0 47h1v1h-1zM2 47h1v1h-1zM4 47h5v1h-5zM10 47h1v1h-1zM15 47h1v1h-1zM17 47h1v1h-1zM19 47h1v1h-1zM21 47h1v1h-1zM23 47h1v1h-1zM25 47h8v1h-8zM35 47h1v1h-1zM37 47h1v1h-1zM39 47h1v1h-1zM41 47h1v1h-1zM43 47h1v1h-1zM45 47h1v1h-1zM47 47h1v1h-1zM49 47h1v1h-1zM51 47h1v1h-1zM53 47h1v1h-1zM55 47h1v1h-1zM67 47h1v1h-1zM69 47h1v1h-1zM71 47h1v1h-1zM74 47h1v1h-1zM76 47h2v1h-2zM79 47h1v1h-1zM81 47h1v1h-1zM83 47h1v1h-1zM85 47h1v1h-1zM91 47h1v1h-1zM1 48h1v1h-1zM3 48h1v1h-1zM5 48h1v1h-1zM7 48h1v1h-1zM15 48h5v1h-5zM21 48h1v1h-1zM23 48h1v1h-1zM26 48h1v1h-1zM28 48h1v1h-1zM30 48h1v1h-1zM33 48h1v1h-1zM40 48h1v1h-1zM42 48h1v1h-1zM45 48h1v1h-1zM47 48h1v1h-1zM49 48h1v1h-1zM51 48h1v1h-1zM53 48h1v1h-1zM55 48h2v1h-2zM58 48h1v1h-1zM60 48h1v1h-1zM62 48h1v1h-1zM64 48h1v1h-1zM66 48h1v1h-1zM68 48h1v1h-1zM70 48h1v1h-1zM72 48h1v1h-1zM78 48h1v1h-1zM80 48h1v1h-1zM82 48h1v1h-1zM88 48h1v1h-1zM90 48h1v1h-1zM92 48h2v1h-2zM0 49h1v1h-1zM4 49h1v1h-1zM6 49h1v1h-1zM8 49h1v1h-1zM10 49h1v1h-1zM13 49h1v1h-1zM20 49h1v1h-1zM22 49h8v1h-8zM31 49h1v1h-1zM35 49h5v1h-5zM43 49h1v1h-1zM46 49h1v1h-1zM48 49h1v1h-1zM50 49h1v1h-1zM59 49h1v1h-1zM61 49h1v1h-1zM63 49h1v1h-1zM65 49h1v1h-1zM69 49h1v1h-1zM71 49h1v1h-1zM73 49h1v1h-1zM75 49h1v1h-1zM77 49h1v1h-1zM79 49h1v1h-1zM85 49h1v1h-1zM87 49h1v1h-1zM89 49h1v1h-1zM91 49h1v1h-1zM1 50h1v1h-1zM3 50h1v1h-1zM5 50h1v1h-1zM7 50h1v1h-1zM12 50h1v1h-1zM16 50h2v1h-2zM19 50h1v1h-1zM21 50h2v1h-2zM24 50h5v1h-5zM30 50h1v1h-1zM33 50h2v1h-2zM47 50h1v1h-1zM49 50h1v1h-1zM51 50h6v1h-6zM58 50h1v1h-1zM60 50h1v1h-1zM62 50h1v1h-1zM64 50h1v1h-1zM66 50h1v1h-1zM68 50h1v1h-1zM70 50h1v1h-1zM72 50h1v1h-1zM74 50h1v1h-1zM76 50h1v1h-1zM78 50h1v1h-1zM80 50h1v1h-1zM84 50h1v1h-1zM86 50h8v1h-8zM95 50h1v1h-1zM0 51h1v1h-1zM2 51h1v1h-1zM4 51h1v1h-1zM8 51h1v1h-1zM10 51h2v1h-2zM13 51h1v1h-1zM18 51h1v1h-1zM20 51h1v1h-1zM29 51h1v1h-1zM31 51h2v1h-2zM35 51h1v1h-1zM37 51h1v1h-1zM40 51h7v1h-7zM48 51h1v1h-1zM52 51h1v1h-1zM54 51h1v1h-1zM57 51h1v1h-1zM59 51h1v1h-1zM61 51h1v1h-1zM63 51h1v1h-1zM65 51h1v1h-1zM67 51h1v1h-1zM69 51h1v1h-1zM71 51h1v1h-1zM73 51h1v1h-1zM75 51h1v1h-1zM77 51h1v1h-1zM79 51h1v1h-1zM81 51h1v1h-1zM83 51h1v1h-1zM94 51h1v1h-1zM1 52h1v1h-1zM3 52h1v1h-1zM5 52h1v1h-1zM7 52h1v1h-1zM9 52h1v1h-1zM12 52h1v1h-1zM14 52h1v1h-1zM19 52h1v1h-1zM21 52h1v1h-1zM23 52h1v1h-1zM25 52h1v1h-1zM27 52h1v1h-1zM29 52h1v1h-1zM31 52h2v1h-2zM34 52h1v1h-1zM36 52h1v1h-1zM44 52h1v1h-1zM49 52h1v1h-1zM51 52h1v1h-1zM55 52h1v1h-1zM58 52h1v1h-1zM60 52h1v1h-1zM62 52h1v1h-1zM64 52h1v1h-1zM70 52h1v1h-1zM74 52h1v1h-1zM76 52h1v1h-1zM78 52h1v1h-1zM80 52h1v1h-1zM82 52h1v1h-1zM84 52h1v1h-1zM86 52h1v1h-1zM88 52h1v1h-1zM90 52h1v1h-1zM92 52h2v1h-2zM95 52h1v1h-1zM1 53h1v1h-1zM3 53h1v1h-1zM5 53h1v1h-1zM7 53h1v1h-1zM9 53h5v1h-5zM15 53h1v1h-1zM20 53h1v1h-1zM22 53h1v1h-1zM26 53h1v1h-1zM28 53h1v1h-1zM32 53h4v1h-4zM37 53h3v1h-3zM41 53h3v1h-3zM48 53h1v1h-1zM50 53h1v1h-1zM52 53h1v1h-1zM54 53h1v1h-1zM57 53h1v1h-1zM65 53h1v1h-1zM67 53h1v1h-1zM69 53h1v1h-1zM71 53h1v1h-1zM73 53h1v1h-1zM75 53h1v1h-1zM77 53h1v1h-1zM79 53h1v1h-1zM81 53h1v1h-1zM83 53h1v1h-1zM85 53h1v1h-1zM87 53h7v1h-7zM0 54h3v1h-3zM4 54h4v1h-4zM9 54h6v1h-6zM23 54h1v1h-1zM25 54h1v1h-1zM27 54h1v1h-1zM29 54h1v1h-1zM31 54h1v1h-1zM36 54h1v1h-1zM38 54h1v1h-1zM40 54h1v1h-1zM42 54h1v1h-1zM45 54h1v1h-1zM47 54h1v1h-1zM49 54h1v1h-1zM51 54h1v1h-1zM53 54h1v1h-1zM55 54h1v1h-1zM58 54h4v1h-4zM63 54h2v1h-2zM66 54h1v1h-1zM68 54h1v1h-1zM70 54h1v1h-1zM72 54h1v1h-1zM74 54h1v1h-1zM78 54h1v1h-1zM80 54h1v1h-1zM82 54h1v1h-1zM84 54h1v1h-1zM86 54h1v1h-1zM94 54h2v1h-2zM15 55h4v1h-4zM22 55h1v1h-1zM24 55h1v1h-1zM26 55h1v1h-1zM30 55h1v1h-1zM33 55h1v1h-1zM43 55h1v1h-1zM45 55h1v1h-1zM47 55h1v1h-1zM49 55h1v1h-1zM51 55h1v1h-1zM54 55h4v1h-4zM59 55h1v1h-1zM63 55h1v1h-1zM65 55h1v1h-1zM71 55h1v1h-1zM73 55h4v1h-4zM81 55h1v1h-1zM83 55h1v1h-1zM85 55h1v1h-1zM87 55h1v1h-1zM89 55h1v1h-1zM91 55h1v1h-1zM93 55h1v1h-1zM95 55h1v1h-1zM0 56h1v1h-1zM2 56h1v1h-1zM4 56h1v1h-1zM6 56h1v1h-1zM8 56h1v1h-1zM10 56h1v1h-1zM12 56h1v1h-1zM14 56h1v1h-1zM16 56h3v1h-3zM27 56h1v1h-1zM29 56h1v1h-1zM31 56h1v1h-1zM34 56h1v1h-1zM36 56h2v1h-2zM39 56h8v1h-8zM48 56h1v1h-1zM50 56h1v1h-1zM60 56h1v1h-1zM62 56h1v1h-1zM64 56h1v1h-1zM66 56h1v1h-1zM68 56h1v1h-1zM72 56h1v1h-1zM74 56h1v1h-1zM76 56h1v1h-1zM80 56h1v1h-1zM82 56h1v1h-1zM84 56h1v1h-1zM86 56h1v1h-1zM88 56h1v1h-1zM92 56h1v1h-1zM94 56h1v1h-1zM1 57h5v1h-5zM7 57h1v1h-1zM11 57h1v1h-1zM13 57h1v1h-1zM15 57h1v1h-1zM23 57h1v1h-1zM25 57h1v1h-1zM27 57h1v1h-1zM29 57h1v1h-1zM31 57h1v1h-1zM33 57h1v1h-1zM35 57h1v1h-1zM47 57h1v1h-1zM49 57h1v1h-1zM53 57h1v1h-1zM55 57h1v1h-1zM57 57h1v1h-1zM59 57h1v1h-1zM61 57h1v1h-1zM65 57h1v1h-1zM67 57h1v1h-1zM69 57h1v1h-1zM71 57h1v1h-1zM73 57h1v1h-1zM75 57h1v1h-1zM77 57h1v1h-1zM81 57h1v1h-1zM83 57h4v1h-4zM88 57h2v1h-2zM91 57h1v1h-1zM93 57h1v1h-1zM0 58h1v1h-1zM2 58h1v1h-1zM4 58h1v1h-1zM8 58h1v1h-1zM10 58h1v1h-1zM12 58h1v1h-1zM14 58h1v1h-1zM16 58h1v1h-1zM18 58h1v1h-1zM22 58h1v1h-1zM24 58h1v1h-1zM26 58h1v1h-1zM30 58h1v1h-1zM32 58h5v1h-5zM38 58h5v1h-5zM54 58h1v1h-1zM56 58h1v1h-1zM58 58h1v1h-1zM60 58h1v1h-1zM62 58h1v1h-1zM64 58h1v1h-1zM68 58h1v1h-1zM70 58h1v1h-1zM72 58h1v1h-1zM74 58h1v1h-1zM78 58h1v1h-1zM80 58h1v1h-1zM90 58h1v1h-1zM92 58h1v1h-1zM94 58h1v1h-1zM1 59h1v1h-1zM3 59h1v1h-1zM5 59h1v1h-1zM7 59h1v1h-1zM11 59h1v1h-1zM13 59h1v1h-1zM15 59h1v1h-1zM17 59h1v1h-1zM19 59h1v1h-1zM21 59h1v1h-1zM23 59h1v1h-1zM25 59h1v1h-1zM27 59h1v1h-1zM29 59h1v1h-1zM31 59h1v1h-1zM41 59h1v1h-1zM43 59h1v1h-1zM45 59h4v1h-4zM51 59h2v1h-2zM55 59h1v1h-1zM57 59h1v1h-1zM61 59h1v1h-1zM63 59h1v1h-1zM72 59h1v1h-1zM74 59h1v1h-1zM77 59h1v1h-1zM79 59h1v1h-1zM81 59h2v1h-2zM84 59h1v1h-1zM86 59h1v1h-1zM88 59h2v1h-2zM91 59h1v1h-1zM93 59h1v1h-1zM1 60h1v1h-1zM3 60h1v1h-1zM5 60h2v1h-2zM8 60h1v1h-1zM10 60h1v1h-1zM12 60h1v1h-1zM14 60h1v1h-1zM16 60h1v1h-1zM18 60h1v1h-1zM20 60h1v1h-1zM22 60h1v1h-1zM26 60h1v1h-1zM28 60h1v1h-1zM36 60h1v1h-1zM41 60h2v1h-2zM44 60h1v1h-1zM46 60h1v1h-1zM52 60h1v1h-1zM54 60h1v1h-1zM58 60h1v1h-1zM62 60h1v1h-1zM64 60h1v1h-1zM67 60h5v1h-5zM73 60h1v1h-1zM75 60h1v1h-1zM78 60h2v1h-2zM81 60h2v1h-2zM84 60h1v1h-1zM86 60h1v1h-1zM88 60h1v1h-1zM91 60h1v1h-1zM93 60h1v1h-1zM95 60h1v1h-1zM0 61h2v1h-2zM4 61h1v1h-1zM7 61h1v1h-1zM9 61h1v1h-1zM11 61h1v1h-1zM13 61h1v1h-1zM15 61h1v1h-1zM19 61h1v1h-1zM23 61h1v1h-1zM25 61h1v1h-1zM27 61h1v1h-1zM29 61h4v1h-4zM35 61h1v1h-1zM37 61h4v1h-4zM43 61h1v1h-1zM45 61h1v1h-1zM53 61h1v1h-1zM55 61h1v1h-1zM57 61h1v1h-1zM59 61h1v1h-1zM61 61h1v1h-1zM63 61h1v1h-1zM67 61h1v1h-1zM69 61h1v1h-1zM71 61h1v1h-1zM74 61h1v1h-1zM77 61h1v1h-1zM80 61h1v1h-1zM83 61h1v1h-1zM92 61h1v1h-1zM94 61h2v1h-2zM3 62h1v1h-1zM8 62h1v1h-1zM10 62h1v1h-1zM14 62h1v1h-1zM16 62h1v1h-1zM20 62h1v1h-1zM22 62h1v1h-1zM24 62h1v1h-1zM26 62h1v1h-1zM34 62h1v1h-1zM44 62h1v1h-1zM46 62h4v1h-4zM51 62h2v1h-2zM56 62h1v1h-1zM60 62h1v1h-1zM66 62h1v1h-1zM70 62h1v1h-1zM72 62h1v1h-1zM75 62h1v1h-1zM78 62h2v1h-2zM83 62h1v1h-1zM85 62h1v1h-1zM91 62h1v1h-1zM0 63h2v1h-2zM3 63h7v1h-7zM11 63h1v1h-1zM13 63h1v1h-1zM19 63h1v1h-1zM21 63h1v1h-1zM23 63h1v1h-1zM25 63h1v1h-1zM28 63h6v1h-6zM37 63h1v1h-1zM39 63h5v1h-5zM49 63h1v1h-1zM51 63h1v1h-1zM53 63h1v1h-1zM55 63h1v1h-1zM57 63h1v1h-1zM59 63h1v1h-1zM63 63h1v1h-1zM69 63h1v1h-1zM71 63h1v1h-1zM77 63h1v1h-1zM80 63h1v1h-1zM82 63h1v1h-1zM84 63h1v1h-1zM86 63h1v1h-1zM88 63h1v1h-1zM90 63h1v1h-1zM92 63h1v1h-1zM94 63h2v1h-2zM10 64h1v1h-1zM12 64h1v1h-1zM14 64h1v1h-1zM16 64h1v1h-1zM18 64h1v1h-1zM20 64h1v1h-1zM22 64h1v1h-1zM24 64h1v1h-1zM26 64h1v1h-1zM28 64h1v1h-1zM30 64h1v1h-1zM32 64h1v1h-1zM34 64h1v1h-1zM36 64h1v1h-1zM38 64h1v1h-1zM40 64h1v1h-1zM42 64h1v1h-1zM50 64h1v1h-1zM52 64h1v1h-1zM54 64h1v1h-1zM56 64h1v1h-1zM58 64h1v1h-1zM60 64h1v1h-1zM62 64h1v1h-1zM64 64h5v1h-5zM70 64h1v1h-1zM72 64h1v1h-1zM75 64h1v1h-1zM78 64h2v1h-2zM85 64h1v1h-1zM87 64h1v1h-1zM93 64h1v1h-1zM7 65h1v1h-1zM11 65h1v1h-1zM15 65h1v1h-1zM19 65h1v1h-1zM21 65h1v1h-1zM25 65h1v1h-1zM27 65h1v1h-1zM29 65h2v1h-2zM32 65h2v1h-2zM35 65h3v1h-3zM39 65h1v1h-1zM41 65h1v1h-1zM43 65h1v1h-1zM45 65h1v1h-1zM47 65h1v1h-1zM51 65h5v1h-5zM57 65h1v1h-1zM59 65h1v1h-1zM61 65h1v1h-1zM63 65h1v1h-1zM67 65h1v1h-1zM69 65h1v1h-1zM71 65h5v1h-5zM77 65h1v1h-1zM80 65h1v1h-1zM82 65h1v1h-1zM84 65h1v1h-1zM88 65h8v1h-8zM0 66h5v1h-5zM7 66h1v1h-1zM9 66h7v1h-7zM20 66h1v1h-1zM24 66h1v1h-1zM28 66h1v1h-1zM30 66h1v1h-1zM32 66h1v1h-1zM34 66h1v1h-1zM40 66h1v1h-1zM42 66h1v1h-1zM44 66h1v1h-1zM48 66h1v1h-1zM50 66h1v1h-1zM56 66h1v1h-1zM58 66h1v1h-1zM60 66h1v1h-1zM62 66h1v1h-1zM64 66h1v1h-1zM66 66h1v1h-1zM68 66h1v1h-1zM70 66h1v1h-1zM76 66h1v1h-1zM78 66h2v1h-2zM81 66h1v1h-1zM83 66h1v1h-1zM85 66h1v1h-1zM87 66h1v1h-1zM1 67h1v1h-1zM3 67h1v1h-1zM5 67h2v1h-2zM8 67h1v1h-1zM11 67h1v1h-1zM13 67h1v1h-1zM15 67h3v1h-3zM19 67h1v1h-1zM21 67h3v1h-3zM25 67h1v1h-1zM29 67h1v1h-1zM35 67h1v1h-1zM37 67h1v1h-1zM39 67h1v1h-1zM41 67h1v1h-1zM43 67h1v1h-1zM45 67h1v1h-1zM47 67h1v1h-1zM49 67h1v1h-1zM51 67h1v1h-1zM53 67h1v1h-1zM55 67h1v1h-1zM57 67h1v1h-1zM59 67h1v1h-1zM61 67h1v1h-1zM65 67h1v1h-1zM71 67h4v1h-4zM77 67h1v1h-1zM79 67h1v1h-1zM81 67h1v1h-1zM85 67h1v1h-1zM87 67h1v1h-1zM89 67h2v1h-2zM92 67h2v1h-2zM95 67h1v1h-1zM4 68h1v1h-1zM7 68h1v1h-1zM9 68h1v1h-1zM18 68h1v1h-1zM20 68h1v1h-1zM24 68h1v1h-1zM26 68h1v1h-1zM30 68h1v1h-1zM32 68h1v1h-1zM35 68h4v1h-4zM40 68h1v1h-1zM42 68h1v1h-1zM44 68h1v1h-1zM46 68h1v1h-1zM48 68h1v1h-1zM50 68h1v1h-1zM52 68h1v1h-1zM54 68h1v1h-1zM56 68h1v1h-1zM58 68h1v1h-1zM60 68h1v1h-1zM62 68h1v1h-1zM64 68h1v1h-1zM66 68h1v1h-1zM74 68h1v1h-1zM76 68h1v1h-1zM78 68h1v1h-1zM80 68h1v1h-1zM82 68h1v1h-1zM86 68h1v1h-1zM88 68h1v1h-1zM91 68h1v1h-1zM94 68h1v1h-1zM2 69h1v1h-1zM10 69h2v1h-2zM17 69h1v1h-1zM23 69h1v1h-1zM25 69h9v1h-9zM43 69h1v1h-1zM47 69h1v1h-1zM53 69h1v1h-1zM59 69h1v1h-1zM61 69h1v1h-1zM63 69h2v1h-2zM67 69h1v1h-1zM69 69h1v1h-1zM75 69h1v1h-1zM77 69h1v1h-1zM79 69h1v1h-1zM83 69h1v1h-1zM85 69h1v1h-1zM87 69h5v1h-5zM94 69h1v1h-1zM1 70h1v1h-1zM3 70h1v1h-1zM5 70h1v1h-1zM7 70h1v1h-1zM9 70h1v1h-1zM12 70h1v1h-1zM14 70h2v1h-2zM18 70h1v1h-1zM20 70h1v1h-1zM22 70h1v1h-1zM24 70h1v1h-1zM26 70h1v1h-1zM28 70h1v1h-1zM30 70h1v1h-1zM32 70h1v1h-1zM34 70h1v1h-1zM36 70h1v1h-1zM38 70h5v1h-5zM44 70h1v1h-1zM50 70h1v1h-1zM56 70h1v1h-1zM60 70h1v1h-1zM62 70h1v1h-1zM64 70h1v1h-1zM66 70h1v1h-1zM68 70h1v1h-1zM70 70h1v1h-1zM80 70h1v1h-1zM82 70h1v1h-1zM84 70h4v1h-4zM90 70h1v1h-1zM1 71h1v1h-1zM3 71h1v1h-1zM5 71h1v1h-1zM7 71h1v1h-1zM9 71h1v1h-1zM11 71h1v1h-1zM13 71h1v1h-1zM15 71h1v1h-1zM17 71h1v1h-1zM19 71h1v1h-1zM21 71h1v1h-1zM23 71h1v1h-1zM27 71h1v1h-1zM29 71h1v1h-1zM31 71h1v1h-1zM33 71h1v1h-1zM35 71h1v1h-1zM37 71h1v1h-1zM39 71h1v1h-1zM41 71h5v1h-5zM47 71h1v1h-1zM49 71h1v1h-1zM51 71h1v1h-1zM53 71h1v1h-1zM55 71h1v1h-1zM57 71h1v1h-1zM59 71h1v1h-1zM61 71h1v1h-1zM65 71h1v1h-1zM67 71h1v1h-1zM69 71h1v1h-1zM71 71h7v1h-7zM85 71h1v1h-1zM87 71h1v1h-1zM89 71h1v1h-1zM95 71h1v1h-1zM0 72h1v1h-1zM2 72h1v1h-1zM6 72h1v1h-1zM8 72h1v1h-1zM12 72h1v1h-1zM14 72h1v1h-1zM16 72h1v1h-1zM18 72h1v1h-1zM20 72h1v1h-1zM24 72h5v1h-5zM30 72h1v1h-1zM32 72h1v1h-1zM34 72h1v1h-1zM38 72h1v1h-1zM40 72h8v1h-8zM50 72h1v1h-1zM52 72h1v1h-1zM54 72h1v1h-1zM56 72h2v1h-2zM60 72h1v1h-1zM62 72h1v1h-1zM64 72h1v1h-1zM66 72h1v1h-1zM74 72h1v1h-1zM76 72h4v1h-4zM81 72h4v1h-4zM91 72h1v1h-1zM93 72h1v1h-1zM0 73h6v1h-6zM7 73h1v1h-1zM9 73h1v1h-1zM11 73h1v1h-1zM13 73h1v1h-1zM15 73h1v1h-1zM21 73h1v1h-1zM23 73h1v1h-1zM31 73h1v1h-1zM33 73h1v1h-1zM35 73h1v1h-1zM37 73h5v1h-5zM43 73h1v1h-1zM45 73h1v1h-1zM47 73h1v1h-1zM49 73h1v1h-1zM51 73h1v1h-1zM53 73h1v1h-1zM55 73h1v1h-1zM63 73h1v1h-1zM65 73h1v1h-1zM67 73h1v1h-1zM69 73h5v1h-5zM77 73h1v1h-1zM79 73h1v1h-1zM81 73h1v1h-1zM83 73h1v1h-1zM85 73h1v1h-1zM87 73h1v1h-1zM89 73h1v1h-1zM94 73h2v1h-2zM0 74h1v1h-1zM2 74h1v1h-1zM6 74h1v1h-1zM8 74h1v1h-1zM10 74h1v1h-1zM18 74h1v1h-1zM20 74h1v1h-1zM22 74h1v1h-1zM24 74h1v1h-1zM26 74h1v1h-1zM28 74h1v1h-1zM30 74h1v1h-1zM32 74h1v1h-1zM36 74h1v1h-1zM40 74h1v1h-1zM42 74h1v1h-1zM46 74h1v1h-1zM48 74h1v1h-1zM52 74h1v1h-1zM54 74h2v1h-2zM59 74h1v1h-1zM63 74h1v1h-1zM65 74h1v1h-1zM67 74h1v1h-1zM70 74h1v1h-1zM72 74h1v1h-1zM76 74h1v1h-1zM80 74h1v1h-1zM82 74h1v1h-1zM88 74h1v1h-1zM90 74h1v1h-1zM94 74h1v1h-1zM1 75h1v1h-1zM7 75h1v1h-1zM9 75h1v1h-1zM11 75h1v1h-1zM21 75h1v1h-1zM23 75h1v1h-1zM25 75h1v1h-1zM27 75h1v1h-1zM33 75h1v1h-1zM35 75h1v1h-1zM37 75h1v1h-1zM41 75h1v1h-1zM43 75h1v1h-1zM45 75h1v1h-1zM47 75h1v1h-1zM51 75h1v1h-1zM53 75h1v1h-1zM56 75h1v1h-1zM58 75h1v1h-1zM60 75h1v1h-1zM62 75h1v1h-1zM64 75h1v1h-1zM66 75h1v1h-1zM68 75h2v1h-2zM71 75h1v1h-1zM73 75h1v1h-1zM75 75h1v1h-1zM77 75h1v1h-1zM81 75h1v1h-1zM83 75h1v1h-1zM85 75h1v1h-1zM87 75h1v1h-1zM89 75h1v1h-1zM91 75h1v1h-1zM93 75h1v1h-1zM0 76h1v1h-1zM2 76h1v1h-1zM6 76h1v1h-1zM8 76h1v1h-1zM14 76h2v1h-2zM17 76h4v1h-4zM24 76h1v1h-1zM26 76h1v1h-1zM28 76h1v1h-1zM30 76h1v1h-1zM32 76h1v1h-1zM34 76h1v1h-1zM36 76h1v1h-1zM38 76h1v1h-1zM44 76h1v1h-1zM46 76h1v1h-1zM48 76h3v1h-3zM52 76h1v1h-1zM54 76h1v1h-1zM57 76h1v1h-1zM59 76h1v1h-1zM61 76h1v1h-1zM72 76h1v1h-1zM74 76h1v1h-1zM76 76h1v1h-1zM78 76h1v1h-1zM80 76h1v1h-1zM82 76h1v1h-1zM84 76h1v1h-1zM86 76h1v1h-1zM90 76h1v1h-1zM92 76h1v1h-1zM94 76h1v1h-1zM1 77h1v1h-1zM5 77h1v1h-1zM7 77h1v1h-1zM9 77h1v1h-1zM14 77h1v1h-1zM18 77h2v1h-2zM28 77h6v1h-6zM35 77h1v1h-1zM43 77h1v1h-1zM45 77h1v1h-1zM47 77h1v1h-1zM49 77h1v1h-1zM53 77h1v1h-1zM56 77h1v1h-1zM58 77h1v1h-1zM62 77h1v1h-1zM64 77h5v1h-5zM71 77h1v1h-1zM73 77h1v1h-1zM75 77h1v1h-1zM77 77h1v1h-1zM89 77h1v1h-1zM91 77h1v1h-1zM95 77h1v1h-1zM0 78h1v1h-1zM4 78h1v1h-1zM6 78h1v1h-1zM10 78h1v1h-1zM13 78h1v1h-1zM15 78h1v1h-1zM17 78h1v1h-1zM20 78h5v1h-5zM35 78h2v1h-2zM42 78h1v1h-1zM44 78h1v1h-1zM46 78h1v1h-1zM48 78h1v1h-1zM50 78h1v1h-1zM52 78h1v1h-1zM55 78h1v1h-1zM57 78h1v1h-1zM59 78h1v1h-1zM61 78h1v1h-1zM63 78h1v1h-1zM65 78h1v1h-1zM67 78h1v1h-1zM70 78h1v1h-1zM72 78h1v1h-1zM74 78h1v1h-1zM76 78h6v1h-6zM83 78h6v1h-6zM90 78h1v1h-1zM92 78h1v1h-1zM1 79h1v1h-1zM3 79h1v1h-1zM5 79h1v1h-1zM14 79h1v1h-1zM19 79h1v1h-1zM21 79h1v1h-1zM23 79h1v1h-1zM25 79h1v1h-1zM27 79h1v1h-1zM29 79h1v1h-1zM37 79h1v1h-1zM39 79h1v1h-1zM41 79h1v1h-1zM43 79h3v1h-3zM47 79h3v1h-3zM53 79h1v1h-1zM55 79h1v1h-1zM57 79h1v1h-1zM60 79h1v1h-1zM62 79h1v1h-1zM64 79h1v1h-1zM68 79h1v1h-1zM70 79h2v1h-2zM91 79h1v1h-1zM93 79h1v1h-1zM95 79h1v1h-1zM0 80h1v1h-1zM4 80h1v1h-1zM6 80h1v1h-1zM8 80h5v1h-5zM15 80h1v1h-1zM17 80h1v1h-1zM22 80h1v1h-1zM26 80h1v1h-1zM28 80h1v1h-1zM30 80h1v1h-1zM32 80h1v1h-1zM34 80h1v1h-1zM36 80h1v1h-1zM38 80h1v1h-1zM42 80h1v1h-1zM50 80h1v1h-1zM52 80h1v1h-1zM54 80h1v1h-1zM56 80h1v1h-1zM58 80h2v1h-2zM61 80h1v1h-1zM63 80h1v1h-1zM65 80h1v1h-1zM69 80h1v1h-1zM72 80h4v1h-4zM77 80h2v1h-2zM80 80h1v1h-1zM82 80h1v1h-1zM84 80h7v1h-7zM92 80h1v1h-1zM1 81h1v1h-1zM7 81h1v1h-1zM9 81h1v1h-1zM11 81h2v1h-2zM14 81h1v1h-1zM16 81h1v1h-1zM18 81h1v1h-1zM23 81h1v1h-1zM25 81h1v1h-1zM27 81h1v1h-1zM31 81h1v1h-1zM33 81h1v1h-1zM35 81h1v1h-1zM37 81h1v1h-1zM39 81h1v1h-1zM41 81h1v1h-1zM43 81h1v1h-1zM45 81h1v1h-1zM47 81h1v1h-1zM49 81h1v1h-1zM51 81h1v1h-1zM53 81h1v1h-1zM55 81h1v1h-1zM57 81h1v1h-1zM60 81h1v1h-1zM77 81h5v1h-5zM83 81h1v1h-1zM85 81h1v1h-1zM87 81h1v1h-1zM89 81h1v1h-1zM93 81h1v1h-1zM95 81h1v1h-1zM0 82h1v1h-1zM2 82h1v1h-1zM4 82h1v1h-1zM6 82h1v1h-1zM8 82h1v1h-1zM10 82h1v1h-1zM12 82h1v1h-1zM14 82h1v1h-1zM16 82h1v1h-1zM18 82h1v1h-1zM20 82h1v1h-1zM22 82h1v1h-1zM24 82h1v1h-1zM32 82h1v1h-1zM36 82h1v1h-1zM40 82h1v1h-1zM42 82h1v1h-1zM44 82h1v1h-1zM46 82h1v1h-1zM52 82h1v1h-1zM54 82h1v1h-1zM56 82h1v1h-1zM58 82h2v1h-2zM61 82h1v1h-1zM63 82h2v1h-2zM66 82h4v1h-4zM71 82h4v1h-4zM82 82h1v1h-1zM84 82h1v1h-1zM90 82h1v1h-1zM92 82h1v1h-1zM94 82h1v1h-1zM3 83h1v1h-1zM5 83h1v1h-1zM7 83h1v1h-1zM9 83h1v1h-1zM13 83h1v1h-1zM15 83h1v1h-1zM18 83h8v1h-8zM27 83h1v1h-1zM29 83h1v1h-1zM31 83h1v1h-1zM33 83h1v1h-1zM35 83h1v1h-1zM37 83h1v1h-1zM39 83h1v1h-1zM41 83h1v1h-1zM43 83h1v1h-1zM45 83h1v1h-1zM47 83h3v1h-3zM51 83h1v1h-1zM53 83h1v1h-1zM55 83h1v1h-1zM65 83h1v1h-1zM67 83h1v1h-1zM69 83h1v1h-1zM71 83h1v1h-1zM73 83h1v1h-1zM75 83h1v1h-1zM77 83h1v1h-1zM79 83h1v1h-1zM81 83h1v1h-1zM83 83h1v1h-1zM85 83h1v1h-1zM87 83h1v1h-1zM92 83h2v1h-2zM95 83h1v1h-1zM0 84h1v1h-1zM2 84h1v1h-1zM4 84h1v1h-1zM6 84h1v1h-1zM8 84h1v1h-1zM10 84h1v1h-1zM12 84h1v1h-1zM14 84h1v1h-1zM16 84h1v1h-1zM36 84h1v1h-1zM38 84h1v1h-1zM40 84h1v1h-1zM42 84h1v1h-1zM46 84h1v1h-1zM48 84h1v1h-1zM54 84h1v1h-1zM56 84h1v1h-1zM58 84h1v1h-1zM60 84h1v1h-1zM62 84h1v1h-1zM64 84h1v1h-1zM66 84h1v1h-1zM68 84h1v1h-1zM70 84h1v1h-1zM72 84h1v1h-1zM74 84h1v1h-1zM76 84h1v1h-1zM82 84h1v1h-1zM84 84h3v1h-3zM94 84h1v1h-1zM1 85h1v1h-1zM3 85h1v1h-1zM5 85h1v1h-1zM9 85h1v1h-1zM13 85h1v1h-1zM15 85h1v1h-1zM17 85h1v1h-1zM19 85h15v1h-15zM35 85h1v1h-1zM37 85h1v1h-1zM39 85h1v1h-1zM41 85h1v1h-1zM43 85h1v1h-1zM45 85h1v1h-1zM47 85h1v1h-1zM49 85h1v1h-1zM51 85h1v1h-1zM53 85h1v1h-1zM55 85h1v1h-1zM65 85h1v1h-1zM67 85h1v1h-1zM71 85h1v1h-1zM73 85h1v1h-1zM75 85h1v1h-1zM79 85h1v1h-1zM83 85h1v1h-1zM85 85h1v1h-1zM87 85h1v1h-1zM91 85h1v1h-1zM95 85h1v1h-1zM0 86h1v1h-1zM2 86h1v1h-1zM4 86h1v1h-1zM6 86h1v1h-1zM8 86h1v1h-1zM10 86h1v1h-1zM12 86h1v1h-1zM14 86h1v1h-1zM16 86h1v1h-1zM18 86h1v1h-1zM26 86h1v1h-1zM28 86h1v1h-1zM30 86h1v1h-1zM32 86h1v1h-1zM34 86h1v1h-1zM36 86h1v1h-1zM38 86h1v1h-1zM40 86h1v1h-1zM42 86h1v1h-1zM44 86h1v1h-1zM46 86h1v1h-1zM48 86h1v1h-1zM50 86h1v1h-1zM52 86h1v1h-1zM56 86h5v1h-5zM64 86h1v1h-1zM66 86h1v1h-1zM72 86h1v1h-1zM74 86h1v1h-1zM76 86h1v1h-1zM78 86h1v1h-1zM80 86h1v1h-1zM82 86h1v1h-1zM84 86h1v1h-1zM86 86h1v1h-1zM88 86h1v1h-1zM90 86h1v1h-1zM92 86h1v1h-1zM94 86h1v1h-1zM1 87h1v1h-1zM3 87h1v1h-1zM5 87h1v1h-1zM7 87h1v1h-1zM9 87h1v1h-1zM15 87h1v1h-1zM17 87h3v1h-3zM21 87h3v1h-3zM26 87h4v1h-4zM31 87h1v1h-1zM33 87h1v1h-1zM35 87h1v1h-1zM45 87h1v1h-1zM51 87h1v1h-1zM53 87h1v1h-1zM55 87h1v1h-1zM57 87h1v1h-1zM59 87h1v1h-1zM61 87h1v1h-1zM63 87h1v1h-1zM65 87h1v1h-1zM67 87h1v1h-1zM69 87h1v1h-1zM71 87h1v1h-1zM73 87h1v1h-1zM75 87h1v1h-1zM77 87h1v1h-1zM79 87h1v1h-1zM83 87h1v1h-1zM85 87h1v1h-1zM87 87h1v1h-1zM89 87h1v1h-1zM91 87h1v1h-1zM93 87h1v1h-1zM95 87h1v1h-1zM0 88h1v1h-1zM2 88h1v1h-1zM6 88h1v1h-1zM8 88h1v1h-1zM10 88h1v1h-1zM24 88h2v1h-2zM30 88h1v1h-1zM32 88h1v1h-1zM34 88h1v1h-1zM36 88h1v1h-1zM38 88h3v1h-3zM46 88h1v1h-1zM48 88h1v1h-1zM50 88h1v1h-1zM52 88h1v1h-1zM54 88h1v1h-1zM58 88h1v1h-1zM60 88h1v1h-1zM64 88h1v1h-1zM66 88h1v1h-1zM68 88h1v1h-1zM70 88h1v1h-1zM72 88h1v1h-1zM74 88h1v1h-1zM78 88h1v1h-1zM80 88h1v1h-1zM84 88h1v1h-1zM86 88h1v1h-1zM88 88h1v1h-1zM90 88h1v1h-1zM1 89h1v1h-1zM5 89h1v1h-1zM9 89h1v1h-1zM11 89h1v1h-1zM13 89h1v1h-1zM15 89h1v1h-1zM23 89h1v1h-1zM25 89h1v1h-1zM27 89h1v1h-1zM29 89h1v1h-1zM31 89h1v1h-1zM33 89h1v1h-1zM35 89h1v1h-1zM37 89h1v1h-1zM39 89h1v1h-1zM41 89h1v1h-1zM43 89h1v1h-1zM47 89h1v1h-1zM49 89h1v1h-1zM51 89h1v1h-1zM53 89h3v1h-3zM57 89h1v1h-1zM59 89h1v1h-1zM61 89h1v1h-1zM63 89h1v1h-1zM69 89h1v1h-1zM75 89h1v1h-1zM77 89h1v1h-1zM79 89h1v1h-1zM81 89h1v1h-1zM83 89h1v1h-1zM85 89h1v1h-1zM87 89h1v1h-1zM89 89h1v1h-1zM91 89h1v1h-1zM93 89h1v1h-1zM95 89h1v1h-1zM0 90h1v1h-1zM2 90h1v1h-1zM4 90h1v1h-1zM6 90h1v1h-1zM10 90h1v1h-1zM12 90h1v1h-1zM14 90h1v1h-1zM18 90h1v1h-1zM22 90h1v1h-1zM26 90h1v1h-1zM28 90h3v1h-3zM32 90h1v1h-1zM34 90h1v1h-1zM42 90h1v1h-1zM44 90h1v1h-1zM48 90h1v1h-1zM50 90h1v1h-1zM54 90h1v1h-1zM56 90h1v1h-1zM58 90h1v1h-1zM60 90h9v1h-9zM70 90h1v1h-1zM72 90h1v1h-1zM74 90h1v1h-1zM76 90h1v1h-1zM78 90h1v1h-1zM80 90h1v1h-1zM82 90h1v1h-1zM84 90h1v1h-1zM86 90h1v1h-1zM88 90h1v1h-1zM90 90h1v1h-1zM92 90h1v1h-1zM94 90h1v1h-1zM1 91h7v1h-7zM9 91h5v1h-5zM15 91h1v1h-1zM17 91h1v1h-1zM19 91h1v1h-1zM21 91h1v1h-1zM23 91h1v1h-1zM25 91h1v1h-1zM31 91h1v1h-1zM33 91h1v1h-1zM37 91h1v1h-1zM39 91h1v1h-1zM41 91h1v1h-1zM43 91h1v1h-1zM45 91h1v1h-1zM47 91h1v1h-1zM49 91h1v1h-1zM53 91h1v1h-1zM55 91h1v1h-1zM57 91h4v1h-4zM69 91h1v1h-1zM71 91h1v1h-1zM79 91h1v1h-1zM81 91h1v1h-1zM83 91h1v1h-1zM85 91h1v1h-1zM87 91h1v1h-1zM89 91h1v1h-1zM91 91h1v1h-1zM93 91h1v1h-1zM95 91h1v1h-1zM0 92h1v1h-1zM14 92h1v1h-1zM16 92h1v1h-1zM18 92h1v1h-1zM22 92h1v1h-1zM24 92h1v1h-1zM26 92h1v1h-1zM28 92h1v1h-1zM30 92h1v1h-1zM34 92h1v1h-1zM36 92h1v1h-1zM38 92h1v1h-1zM42 92h1v1h-1zM44 92h1v1h-1zM46 92h1v1h-1zM48 92h1v1h-1zM50 92h1v1h-1zM52 92h1v1h-1zM56 92h1v1h-1zM62 92h1v1h-1zM64 92h1v1h-1zM66 92h1v1h-1zM68 92h1v1h-1zM70 92h1v1h-1zM72 92h5v1h-5zM82 92h1v1h-1zM84 92h1v1h-1zM86 92h1v1h-1zM88 92h1v1h-1zM90 92h1v1h-1zM92 92h1v1h-1zM94 92h1v1h-1zM1 93h1v1h-1zM3 93h1v1h-1zM5 93h1v1h-1zM15 93h1v1h-1zM17 93h1v1h-1zM19 93h1v1h-1zM21 93h1v1h-1zM23 93h1v1h-1zM25 93h1v1h-1zM27 93h1v1h-1zM29 93h1v1h-1zM31 93h1v1h-1zM33 93h1v1h-1zM35 93h1v1h-1zM39 93h1v1h-1zM41 93h1v1h-1zM43 93h1v1h-1zM45 93h5v1h-5zM51 93h1v1h-1zM55 93h1v1h-1zM57 93h1v1h-1zM59 93h1v1h-1zM65 93h1v1h-1zM67 93h1v1h-1zM71 93h1v1h-1zM73 93h1v1h-1zM75 93h1v1h-1zM77 93h1v1h-1zM79 93h1v1h-1zM81 93h1v1h-1zM83 93h1v1h-1zM85 93h1v1h-1zM87 93h1v1h-1zM89 93h1v1h-1zM91 93h1v1h-1zM93 93h1v1h-1zM95 93h1v1h-1zM0 94h1v1h-1zM2 94h1v1h-1zM4 94h1v1h-1zM12 94h1v1h-1zM14 94h1v1h-1zM18 94h1v1h-1zM22 94h1v1h-1zM24 94h1v1h-1zM26 94h1v1h-1zM28 94h1v1h-1zM30 94h1v1h-1zM32 94h1v1h-1zM34 94h1v1h-1zM36 94h1v1h-1zM38 94h1v1h-1zM44 94h1v1h-1zM50 94h1v1h-1zM52 94h1v1h-1zM54 94h1v1h-1zM56 94h1v1h-1zM62 94h1v1h-1zM64 94h1v1h-1zM66 94h1v1h-1zM70 94h1v1h-1zM76 94h1v1h-1zM78 94h1v1h-1zM84 94h1v1h-1zM86 94h1v1h-1zM90 94h1v1h-1zM92 94h1v1h-1zM1 95h1v1h-1zM3 95h1v1h-1zM5 95h3v1h-3zM9 95h3v1h-3zM13 95h1v1h-1zM15 95h1v1h-1zM17 95h1v1h-1zM19 95h1v1h-1zM21 95h1v1h-1zM23 95h1v1h-1zM25 95h1v1h-1zM27 95h1v1h-1zM29 95h7v1h-7zM37 95h1v1h-1zM39 95h1v1h-1zM43 95h1v1h-1zM45 95h1v1h-1zM47 95h2v1h-2zM52 95h1v1h-1zM54 95h1v1h-1zM56 95h3v1h-3zM60 95h6v1h-6zM67 95h1v1h-1zM69 95h1v1h-1zM71 95h1v1h-1zM73 95h1v1h-1zM75 95h1v1h-1zM77 95h1v1h-1zM79 95h1v1h-1zM81 95h1v1h-1zM83 95h1v1h-1zM85 95h1v1h-1zM89 95h1v1h-1zM91 95h1v1h-1zM93 95h1v1h-1z" fill="#000" shape-rendering="crispEdges"/></pattern></defs>
<g id="guides" fill="none" stroke="#000" stroke-width="1.9" stroke-dasharray="6.5 5.5">
<path d="M337 606H756"/>
<path d="M425 938.6H750"/>
<path d="M513 1104H726"/>
<path d="M777 711V1178" stroke-width="2" stroke-dasharray="8.5 3.5"/>
</g>
<g id="band-delivery-pressure" shape-rendering="crispEdges">
<polygon points="599.6,853 955,306 955,495 599.6,921" fill="url(#dith)"/>
<path d="M599.6 853.4L957.4 303.4M600 921.8L957.2 494" stroke="#000" stroke-width="4.1" fill="none"/>
</g>
<polygon id="band-solid" shape-rendering="crispEdges" fill="#000" points="599.3,1095.2 955,726 955,926.8 777.8,1046 673.6,1114.9 955,1057.3 955,1110.8 624.2,1147.3 599.3,1163"/>
<g id="axes" fill="none" stroke="#000" stroke-width="2.0" shape-rendering="crispEdges">
<path d="M335.7 287.6V541" stroke-width="2.2"/><path d="M335.2 539V791" stroke-width="2.6"/><path d="M334.5 789V1032" stroke-width="2.2"/>
<path d="M316.4 288.6H335.6"/>
<path d="M315 436.7H335.6"/>
<path d="M314 585H335.6"/>
<path d="M314 733.5H335.6"/>
<path d="M314 882H335.6"/>
<path d="M314 1031H335.6"/>
<path d="M423.5 659V1179" stroke-width="2.2"/>
<path d="M403.4 660H424.4"/>
<path d="M403.4 733.5H424.4"/>
<path d="M403.4 808H424.4"/>
<path d="M403.4 882H424.4"/>
<path d="M403.4 956.6H424.4"/>
<path d="M403.4 1030.8H424.4"/>
<path d="M403.4 1104H424.4"/>
<path d="M403.4 1178H424.4"/>
<path d="M511.4 1029.4V1178" stroke-width="2.4"/>
<path d="M492 1030.3H512.6"/>
<path d="M492 1059.7H512.6"/>
<path d="M492 1089H512.6"/>
<path d="M492 1118.3H512.6"/>
<path d="M492 1147.7H512.6"/>
<path d="M491 1177.7H955.8" stroke-width="2.2"/>
<path d="M599.6 1178V1198"/>
<path d="M687.7 1178V1198"/>
<path d="M776.1 1178V1198"/>
<path d="M864.9 1178V1198"/>
<path d="M953.9 1177V1197" stroke-width="3"/>
</g>
<g id="break" fill="none" stroke="#000" stroke-width="1.3">
<path d="M532.8 1162.6C538.5 1168 538.8 1174 535 1180C530 1186.5 527.5 1190.5 533.2 1196.6"/>
<path d="M545.4 1163.4C551.5 1168.5 551.8 1174.5 548 1180C543 1186.5 540.2 1190.8 545.8 1196.8"/>
</g>
</svg>
</body>
</html>
